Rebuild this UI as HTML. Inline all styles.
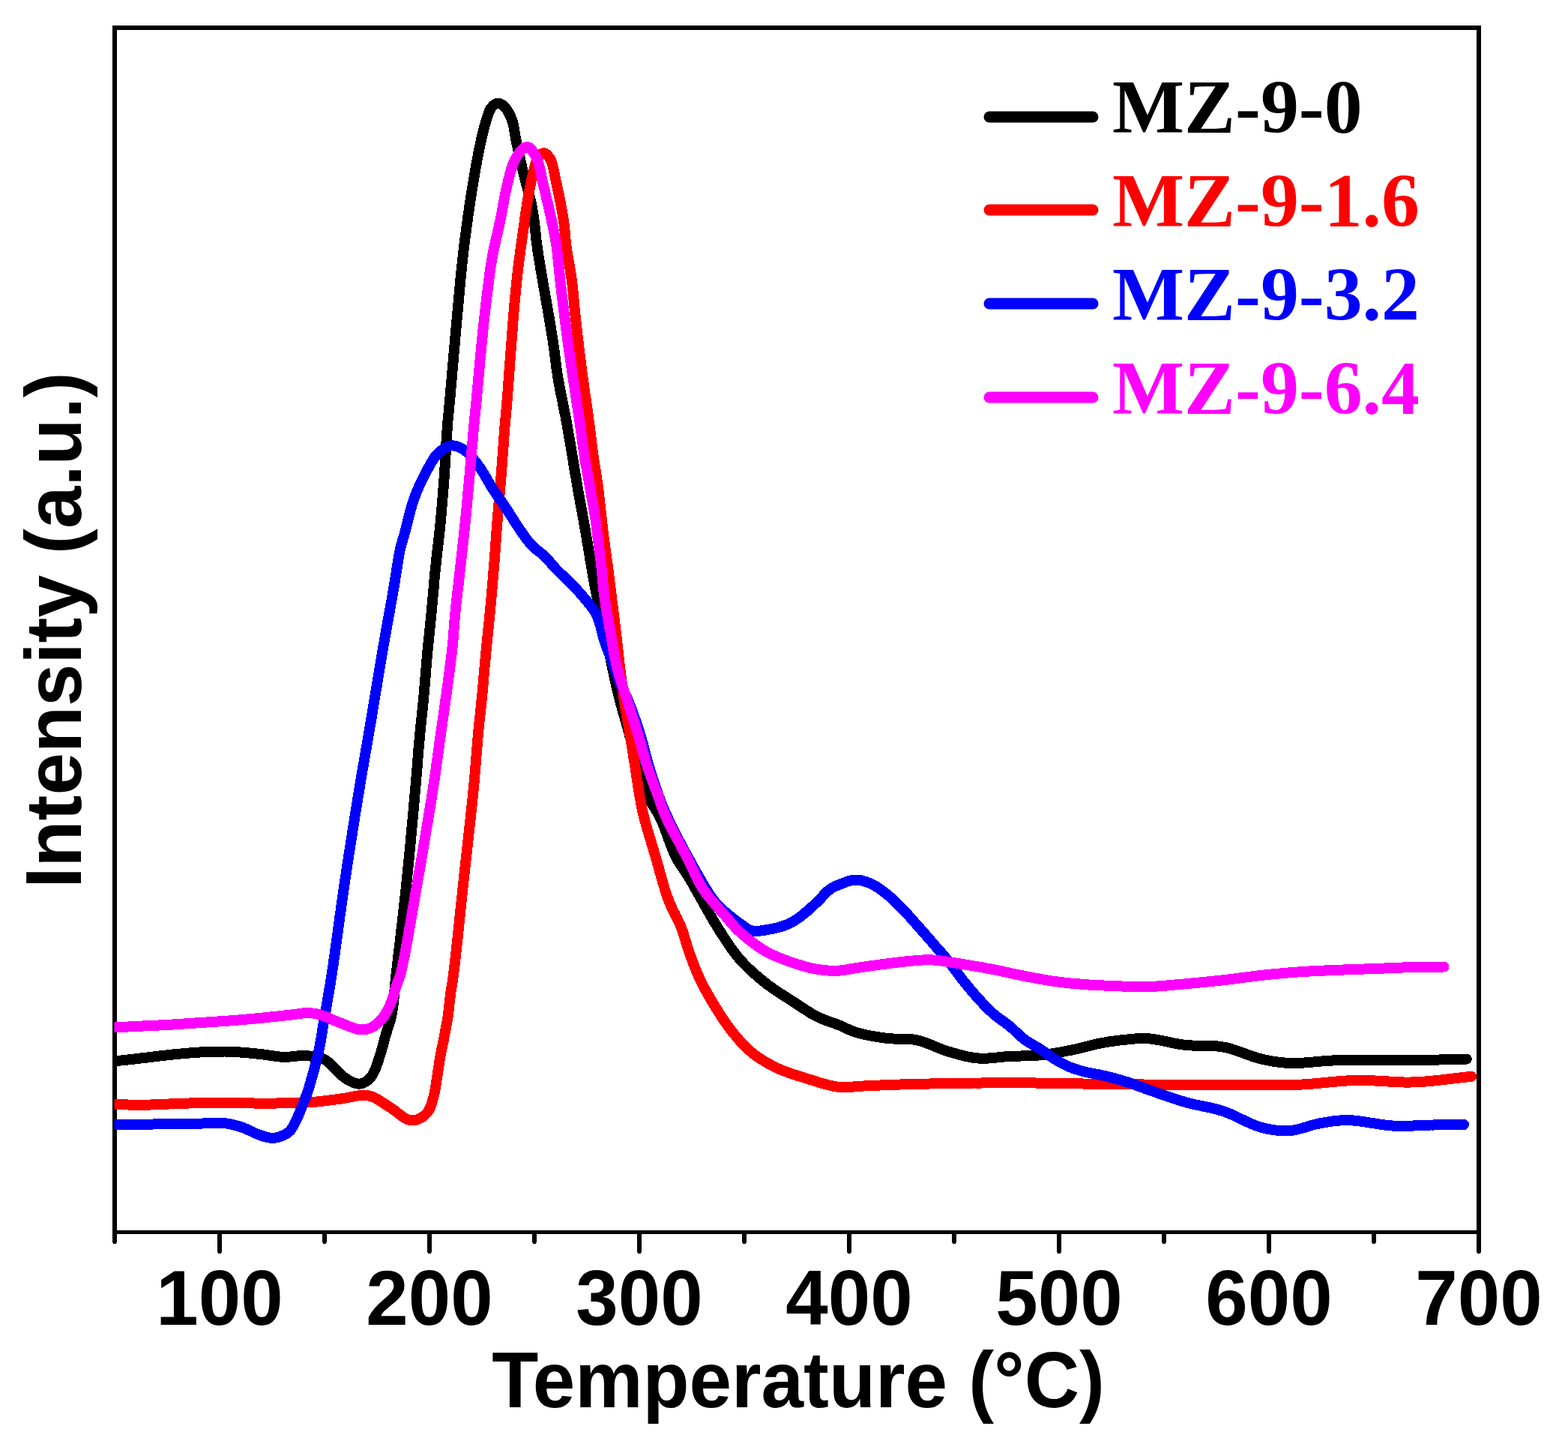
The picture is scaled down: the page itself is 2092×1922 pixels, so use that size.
<!DOCTYPE html>
<html>
<head>
<meta charset="utf-8">
<style>
html,body{margin:0;padding:0;background:#fff;}
body{width:2092px;height:1922px;overflow:hidden;}
svg{display:block;}
.tl{font-family:"Liberation Sans",Arial,sans-serif;font-weight:bold;font-size:101.5px;fill:#000;}
.lg{font-family:"Liberation Serif","Times New Roman",serif;font-weight:bold;font-size:101.8px;}
</style>
</head>
<body>
<svg width="2092" height="1922" viewBox="0 0 2092 1922">
<defs><clipPath id="plotclip"><rect x="152.7" y="37" width="1820" height="1606"/></clipPath></defs>
<rect x="0" y="0" width="2092" height="1922" fill="#fff"/>
<!-- frame -->
<g stroke="#000" fill="none">
<line x1="150" y1="37" x2="1976" y2="37" stroke-width="6"/>
<line x1="153" y1="34" x2="153" y2="1646" stroke-width="6"/>
<line x1="1973" y1="34" x2="1973" y2="1646" stroke-width="6"/>
<line x1="150" y1="1643.5" x2="1976" y2="1643.5" stroke-width="5"/>
</g>
<!-- curves -->
<g clip-path="url(#plotclip)" shape-rendering="crispEdges" fill="none" stroke-width="14" stroke-linejoin="round" stroke-linecap="round">
<path id="cBlack" stroke="#000" d="M150.0,1415.2L153.0,1415.1 156.0,1414.9 159.0,1414.7 162.0,1414.4 165.0,1414.1 167.9,1413.8 170.9,1413.4 173.9,1413.1 176.9,1412.8 179.9,1412.4 182.8,1412.1 185.8,1411.7 188.8,1411.4 191.8,1411.0 194.8,1410.7 197.7,1410.3 200.7,1410.0 203.7,1409.6 206.7,1409.2 209.7,1408.9 212.6,1408.5 215.6,1408.2 218.6,1407.8 221.6,1407.5 224.6,1407.1 227.5,1406.8 230.5,1406.5 233.5,1406.2 236.5,1405.9 239.5,1405.6 242.5,1405.4 245.5,1405.1 248.4,1404.8 251.4,1404.6 254.4,1404.3 257.4,1404.1 260.4,1403.9 263.4,1403.7 266.4,1403.5 269.4,1403.3 272.4,1403.1 275.4,1403.0 278.4,1402.8 281.4,1402.7 284.4,1402.6 287.4,1402.6 290.4,1402.5 293.4,1402.5 296.4,1402.5 299.4,1402.5 302.4,1402.6 305.4,1402.7 308.4,1402.8 311.4,1403.0 314.4,1403.1 317.3,1403.3 320.3,1403.5 323.3,1403.7 326.3,1404.0 329.3,1404.2 332.3,1404.5 335.3,1404.8 338.3,1405.1 341.3,1405.4 344.2,1405.7 347.2,1406.0 350.2,1406.4 353.2,1406.7 356.1,1407.1 359.1,1407.6 362.1,1408.0 365.0,1408.5 368.0,1408.9 371.0,1409.3 374.0,1409.6 377.0,1409.8 380.0,1409.8 383.0,1409.8 386.0,1409.6 389.0,1409.3 391.9,1409.0 394.9,1408.6 397.9,1408.4 400.9,1408.2 403.9,1408.1 406.9,1408.2 409.9,1408.3 412.9,1408.5 415.9,1408.7 418.9,1409.1 421.8,1409.5 424.8,1410.1 427.7,1410.9 430.5,1411.9 433.2,1413.2 435.7,1414.8 438.0,1416.7 440.3,1418.7 442.4,1420.9 444.4,1423.0 446.5,1425.2 448.6,1427.3 450.8,1429.4 452.9,1431.5 455.1,1433.6 457.4,1435.6 459.8,1437.4 462.2,1439.0 464.8,1440.6 467.4,1442.1 470.1,1443.4 472.9,1444.5 475.8,1445.3 478.7,1445.7 481.7,1445.4 484.6,1444.5 487.3,1443.2 489.8,1441.5 492.0,1439.6 494.1,1437.4 496.0,1435.1 497.6,1432.5 499.0,1429.9 500.2,1427.1 501.4,1424.4 502.4,1421.6 503.4,1418.7 504.4,1415.9 505.3,1413.0 506.2,1410.2 507.2,1407.3 508.1,1404.5 508.9,1401.6 509.7,1398.7 510.5,1395.8 511.3,1392.9 512.0,1390.0 512.7,1387.1 513.5,1384.2 514.3,1381.3 515.2,1378.4 516.1,1375.6 517.0,1372.7 518.0,1369.9 518.9,1367.0 519.8,1364.1 520.6,1361.3 521.4,1358.4 522.1,1355.4 522.7,1352.5 523.2,1349.6 523.7,1346.6 524.1,1343.6 524.5,1340.6 524.8,1337.7 525.2,1334.7 525.5,1331.7 525.7,1328.7 526.0,1325.7 526.3,1322.7 526.6,1319.8 526.8,1316.8 527.1,1313.8 527.4,1310.8 527.7,1307.8 528.0,1304.8 528.3,1301.8 528.6,1298.9 529.0,1295.9 529.3,1292.9 529.7,1289.9 530.0,1286.9 530.3,1284.0 530.7,1281.0 531.0,1278.0 531.4,1275.0 531.7,1272.0 532.1,1269.1 532.4,1266.1 532.8,1263.1 533.1,1260.1 533.5,1257.1 533.8,1254.2 534.2,1251.2 534.5,1248.2 534.9,1245.2 535.2,1242.2 535.6,1239.3 535.9,1236.3 536.3,1233.3 536.6,1230.3 536.9,1227.3 537.3,1224.4 537.6,1221.4 538.0,1218.4 538.3,1215.4 538.6,1212.4 539.0,1209.5 539.3,1206.5 539.6,1203.5 540.0,1200.5 540.3,1197.5 540.6,1194.5 540.9,1191.6 541.3,1188.6 541.6,1185.6 541.9,1182.6 542.2,1179.6 542.5,1176.6 542.8,1173.7 543.1,1170.7 543.4,1167.7 543.7,1164.7 544.0,1161.7 544.3,1158.7 544.6,1155.7 544.9,1152.8 545.2,1149.8 545.5,1146.8 545.8,1143.8 546.1,1140.8 546.4,1137.8 546.6,1134.8 546.9,1131.9 547.2,1128.9 547.5,1125.9 547.8,1122.9 548.0,1119.9 548.3,1116.9 548.6,1113.9 548.9,1110.9 549.1,1108.0 549.4,1105.0 549.7,1102.0 550.0,1099.0 550.2,1096.0 550.5,1093.0 550.8,1090.0 551.0,1087.0 551.3,1084.1 551.6,1081.1 551.8,1078.1 552.1,1075.1 552.4,1072.1 552.6,1069.1 552.9,1066.1 553.1,1063.1 553.4,1060.2 553.7,1057.2 553.9,1054.2 554.2,1051.2 554.5,1048.2 554.7,1045.2 555.0,1042.2 555.2,1039.2 555.5,1036.2 555.7,1033.3 556.0,1030.3 556.2,1027.3 556.5,1024.3 556.7,1021.3 556.9,1018.3 557.2,1015.3 557.4,1012.3 557.7,1009.3 557.9,1006.3 558.1,1003.3 558.4,1000.4 558.6,997.4 558.9,994.4 559.1,991.4 559.4,988.4 559.7,985.4 560.0,982.4 560.2,979.4 560.5,976.5 560.8,973.5 561.1,970.5 561.4,967.5 561.7,964.5 562.0,961.5 562.3,958.5 562.7,955.6 563.0,952.6 563.3,949.6 563.6,946.6 563.9,943.6 564.2,940.6 564.5,937.7 564.8,934.7 565.1,931.7 565.4,928.7 565.6,925.7 565.9,922.7 566.2,919.7 566.4,916.7 566.7,913.8 566.9,910.8 567.2,907.8 567.4,904.8 567.7,901.8 567.9,898.8 568.2,895.8 568.4,892.8 568.6,889.8 568.9,886.8 569.1,883.9 569.4,880.9 569.6,877.9 569.9,874.9 570.2,871.9 570.4,868.9 570.7,865.9 571.0,862.9 571.3,860.0 571.6,857.0 571.9,854.0 572.2,851.0 572.5,848.0 572.8,845.0 573.1,842.0 573.4,839.1 573.7,836.1 574.0,833.1 574.3,830.1 574.6,827.1 574.9,824.1 575.2,821.1 575.5,818.2 575.7,815.2 576.0,812.2 576.3,809.2 576.6,806.2 576.9,803.2 577.1,800.2 577.4,797.3 577.7,794.3 577.9,791.3 578.2,788.3 578.5,785.3 578.7,782.3 579.0,779.3 579.3,776.3 579.5,773.3 579.8,770.4 580.1,767.4 580.4,764.4 580.6,761.4 580.9,758.4 581.2,755.4 581.6,752.4 581.9,749.5 582.2,746.5 582.5,743.5 582.9,740.5 583.2,737.5 583.5,734.6 583.9,731.6 584.2,728.6 584.6,725.6 584.9,722.6 585.2,719.7 585.6,716.7 585.9,713.7 586.2,710.7 586.6,707.7 586.9,704.7 587.2,701.8 587.5,698.8 587.8,695.8 588.1,692.8 588.3,689.8 588.6,686.8 588.9,683.8 589.1,680.8 589.4,677.9 589.6,674.9 589.9,671.9 590.1,668.9 590.4,665.9 590.6,662.9 590.9,659.9 591.1,656.9 591.3,653.9 591.6,650.9 591.8,648.0 592.0,645.0 592.2,642.0 592.5,639.0 592.7,636.0 592.9,633.0 593.1,630.0 593.3,627.0 593.5,624.0 593.7,621.0 593.9,618.0 594.0,615.0 594.2,612.0 594.4,609.0 594.6,606.0 594.7,603.1 594.9,600.1 595.1,597.1 595.3,594.1 595.4,591.1 595.6,588.1 595.8,585.1 596.0,582.1 596.2,579.1 596.4,576.1 596.6,573.1 596.8,570.1 597.0,567.1 597.3,564.1 597.5,561.1 597.8,558.2 598.1,555.2 598.4,552.2 598.7,549.2 599.0,546.2 599.3,543.2 599.5,540.2 599.8,537.3 600.1,534.3 600.3,531.3 600.6,528.3 600.9,525.3 601.1,522.3 601.4,519.3 601.6,516.3 601.9,513.3 602.2,510.4 602.4,507.4 602.7,504.4 602.9,501.4 603.2,498.4 603.4,495.4 603.7,492.4 604.0,489.4 604.2,486.4 604.5,483.5 604.7,480.5 605.0,477.5 605.2,474.5 605.5,471.5 605.8,468.5 606.0,465.5 606.3,462.5 606.6,459.5 606.8,456.6 607.1,453.6 607.3,450.6 607.6,447.6 607.9,444.6 608.1,441.6 608.4,438.6 608.7,435.6 608.9,432.7 609.2,429.7 609.5,426.7 609.7,423.7 610.0,420.7 610.3,417.7 610.6,414.7 610.8,411.7 611.1,408.8 611.4,405.8 611.7,402.8 611.9,399.8 612.2,396.8 612.5,393.8 612.8,390.8 613.0,387.8 613.3,384.9 613.6,381.9 613.9,378.9 614.2,375.9 614.4,372.9 614.7,369.9 615.0,366.9 615.3,363.9 615.6,361.0 615.9,358.0 616.2,355.0 616.5,352.0 616.9,349.0 617.2,346.0 617.5,343.1 617.8,340.1 618.2,337.1 618.5,334.1 618.9,331.1 619.2,328.2 619.6,325.2 620.0,322.2 620.3,319.2 620.7,316.3 621.1,313.3 621.5,310.3 621.9,307.3 622.3,304.4 622.7,301.4 623.1,298.4 623.5,295.4 623.9,292.5 624.3,289.5 624.7,286.5 625.2,283.6 625.6,280.6 626.0,277.6 626.4,274.6 626.9,271.7 627.3,268.7 627.8,265.7 628.2,262.8 628.7,259.8 629.2,256.9 629.6,253.9 630.1,250.9 630.6,248.0 631.1,245.0 631.6,242.0 632.1,239.1 632.6,236.1 633.1,233.2 633.6,230.2 634.1,227.3 634.6,224.3 635.1,221.3 635.6,218.4 636.2,215.4 636.7,212.5 637.3,209.5 637.8,206.6 638.4,203.7 639.0,200.7 639.6,197.8 640.2,194.8 640.8,191.9 641.5,189.0 642.1,186.0 642.8,183.1 643.5,180.2 644.2,177.3 644.9,174.4 645.7,171.5 646.4,168.6 647.2,165.7 648.1,162.8 648.9,159.9 649.8,157.0 650.7,154.2 651.6,151.3 652.7,148.5 654.0,145.9 655.7,143.4 657.7,141.1 660.1,139.3 662.8,138.0 665.8,137.9 668.6,138.9 671.1,140.6 673.3,142.6 675.2,144.9 677.0,147.3 678.5,149.9 679.9,152.6 681.1,155.3 682.3,158.1 683.3,160.9 684.2,163.7 684.9,166.6 685.5,169.6 686.0,172.5 686.5,175.5 687.0,178.5 687.5,181.4 688.0,184.4 688.6,187.3 689.2,190.3 689.8,193.2 690.5,196.1 691.1,199.1 691.7,202.0 692.4,204.9 693.0,207.8 693.7,210.8 694.3,213.7 695.0,216.6 695.7,219.6 696.3,222.5 697.0,225.4 697.7,228.3 698.4,231.2 699.2,234.1 699.9,237.0 700.7,239.9 701.5,242.8 702.2,245.7 703.0,248.6 703.8,251.5 704.6,254.4 705.4,257.3 706.1,260.2 706.8,263.1 707.5,266.1 708.2,269.0 708.9,271.9 709.5,274.8 710.1,277.8 710.6,280.7 711.1,283.7 711.6,286.7 712.0,289.6 712.4,292.6 712.8,295.6 713.1,298.6 713.5,301.5 713.8,304.5 714.1,307.5 714.5,310.5 714.8,313.5 715.1,316.4 715.4,319.4 715.8,322.4 716.2,325.4 716.6,328.4 717.0,331.3 717.4,334.3 717.9,337.3 718.3,340.2 718.8,343.2 719.3,346.2 719.8,349.1 720.2,352.1 720.7,355.0 721.2,358.0 721.7,361.0 722.2,363.9 722.7,366.9 723.2,369.8 723.7,372.8 724.2,375.7 724.7,378.7 725.2,381.7 725.8,384.6 726.3,387.6 726.8,390.5 727.3,393.5 727.9,396.4 728.4,399.4 728.9,402.3 729.4,405.3 730.0,408.2 730.5,411.2 731.0,414.2 731.5,417.1 732.0,420.1 732.5,423.0 733.0,426.0 733.5,428.9 734.0,431.9 734.5,434.9 734.9,437.8 735.4,440.8 735.9,443.7 736.4,446.7 736.8,449.7 737.3,452.6 737.8,455.6 738.2,458.6 738.6,461.5 739.1,464.5 739.5,467.5 739.9,470.5 740.2,473.4 740.6,476.4 741.0,479.4 741.4,482.4 741.7,485.3 742.1,488.3 742.5,491.3 743.0,494.3 743.4,497.2 743.8,500.2 744.3,503.1 744.8,506.1 745.3,509.1 745.9,512.0 746.4,515.0 747.0,517.9 747.5,520.9 748.1,523.8 748.7,526.7 749.3,529.7 749.9,532.6 750.5,535.6 751.1,538.5 751.6,541.5 752.2,544.4 752.8,547.3 753.4,550.3 754.0,553.2 754.6,556.2 755.1,559.1 755.7,562.1 756.2,565.0 756.7,568.0 757.3,570.9 757.8,573.9 758.3,576.8 758.8,579.8 759.3,582.7 759.8,585.7 760.3,588.7 760.8,591.6 761.3,594.6 761.8,597.5 762.3,600.5 762.8,603.5 763.3,606.4 763.8,609.4 764.3,612.3 764.7,615.3 765.2,618.3 765.7,621.2 766.2,624.2 766.7,627.1 767.2,630.1 767.7,633.1 768.2,636.0 768.7,639.0 769.2,641.9 769.7,644.9 770.2,647.8 770.7,650.8 771.2,653.8 771.7,656.7 772.3,659.7 772.8,662.6 773.3,665.6 773.9,668.5 774.4,671.5 775.0,674.4 775.5,677.4 776.1,680.3 776.6,683.3 777.1,686.2 777.7,689.2 778.2,692.1 778.8,695.1 779.3,698.0 779.8,701.0 780.3,703.9 780.9,706.9 781.4,709.8 781.9,712.8 782.4,715.8 782.9,718.7 783.3,721.7 783.8,724.6 784.3,727.6 784.8,730.6 785.3,733.5 785.8,736.5 786.3,739.4 786.7,742.4 787.2,745.4 787.7,748.3 788.3,751.3 788.8,754.2 789.3,757.2 789.8,760.1 790.3,763.1 790.8,766.1 791.3,769.0 791.9,772.0 792.4,774.9 792.9,777.9 793.5,780.8 794.0,783.8 794.6,786.7 795.1,789.7 795.7,792.6 796.3,795.5 796.9,798.5 797.5,801.4 798.1,804.4 798.7,807.3 799.3,810.2 800.0,813.2 800.6,816.1 801.2,819.0 801.9,822.0 802.5,824.9 803.2,827.8 803.8,830.8 804.5,833.7 805.1,836.6 805.8,839.5 806.4,842.5 807.1,845.4 807.7,848.3 808.4,851.2 809.0,854.2 809.7,857.1 810.4,860.0 811.0,863.0 811.7,865.9 812.3,868.8 813.0,871.7 813.6,874.7 814.3,877.6 814.9,880.5 815.6,883.5 816.2,886.4 816.8,889.3 817.4,892.3 818.0,895.2 818.7,898.1 819.3,901.1 819.9,904.0 820.5,906.9 821.2,909.9 821.8,912.8 822.4,915.7 823.1,918.7 823.8,921.6 824.5,924.5 825.2,927.4 825.9,930.3 826.7,933.2 827.5,936.1 828.2,939.0 829.1,941.9 829.9,944.8 830.7,947.7 831.5,950.6 832.4,953.4 833.2,956.3 834.1,959.2 834.9,962.1 835.7,965.0 836.6,967.8 837.4,970.7 838.2,973.6 839.0,976.5 839.7,979.4 840.4,982.3 841.2,985.2 841.9,988.2 842.5,991.1 843.2,994.0 843.9,996.9 844.6,999.9 845.2,1002.8 845.9,1005.7 846.6,1008.6 847.3,1011.5 848.0,1014.5 848.7,1017.4 849.5,1020.3 850.3,1023.2 851.1,1026.0 851.9,1028.9 852.8,1031.8 853.6,1034.7 854.5,1037.5 855.4,1040.4 856.3,1043.3 857.3,1046.1 858.3,1048.9 859.4,1051.7 860.5,1054.5 861.6,1057.3 862.9,1060.0 864.2,1062.7 865.6,1065.4 867.1,1067.9 868.7,1070.5 870.4,1073.0 872.0,1075.5 873.6,1078.0 875.2,1080.6 876.8,1083.1 878.3,1085.7 879.7,1088.4 881.1,1091.1 882.3,1093.8 883.5,1096.5 884.7,1099.3 885.8,1102.1 886.9,1104.9 887.9,1107.7 888.9,1110.5 890.0,1113.3 891.0,1116.2 892.0,1119.0 893.0,1121.8 894.1,1124.6 895.1,1127.4 896.2,1130.2 897.3,1133.0 898.4,1135.8 899.6,1138.5 900.9,1141.3 902.2,1143.9 903.7,1146.6 905.2,1149.2 906.8,1151.7 908.4,1154.2 910.1,1156.7 911.9,1159.1 913.6,1161.6 915.2,1164.1 916.8,1166.6 918.4,1169.2 920.0,1171.8 921.5,1174.3 923.0,1176.9 924.5,1179.5 926.0,1182.1 927.4,1184.8 928.9,1187.4 930.4,1190.0 931.9,1192.6 933.3,1195.2 934.8,1197.8 936.3,1200.4 937.8,1203.0 939.3,1205.6 940.7,1208.3 942.2,1210.9 943.7,1213.5 945.1,1216.1 946.6,1218.7 948.1,1221.3 949.6,1223.9 951.1,1226.5 952.6,1229.1 954.2,1231.7 955.7,1234.2 957.3,1236.8 958.9,1239.3 960.5,1241.9 962.1,1244.4 963.7,1246.9 965.3,1249.5 967.0,1252.0 968.6,1254.5 970.3,1257.0 971.9,1259.5 973.6,1262.0 975.3,1264.4 977.1,1266.9 978.9,1269.3 980.7,1271.7 982.5,1274.0 984.4,1276.4 986.3,1278.7 988.3,1280.9 990.3,1283.1 992.4,1285.3 994.5,1287.5 996.6,1289.6 998.8,1291.7 1000.9,1293.7 1003.1,1295.8 1005.4,1297.8 1007.6,1299.8 1009.9,1301.7 1012.2,1303.7 1014.5,1305.6 1016.8,1307.5 1019.1,1309.4 1021.5,1311.2 1023.9,1313.1 1026.3,1314.9 1028.7,1316.6 1031.1,1318.4 1033.6,1320.1 1036.1,1321.7 1038.6,1323.4 1041.1,1325.0 1043.6,1326.7 1046.2,1328.3 1048.7,1329.9 1051.2,1331.5 1053.8,1333.1 1056.3,1334.8 1058.8,1336.4 1061.3,1338.1 1063.8,1339.7 1066.3,1341.4 1068.8,1343.0 1071.3,1344.7 1073.8,1346.3 1076.3,1347.9 1078.9,1349.5 1081.4,1351.1 1084.0,1352.6 1086.7,1354.0 1089.3,1355.4 1092.0,1356.8 1094.7,1358.0 1097.5,1359.2 1100.3,1360.3 1103.1,1361.4 1105.9,1362.4 1108.7,1363.4 1111.6,1364.4 1114.4,1365.4 1117.2,1366.4 1120.0,1367.5 1122.7,1368.7 1125.5,1370.0 1128.2,1371.2 1130.9,1372.5 1133.6,1373.7 1136.4,1374.9 1139.2,1375.9 1142.1,1376.9 1145.0,1377.7 1147.9,1378.5 1150.8,1379.2 1153.7,1379.9 1156.6,1380.5 1159.6,1381.1 1162.5,1381.7 1165.5,1382.2 1168.4,1382.7 1171.4,1383.2 1174.3,1383.7 1177.3,1384.1 1180.3,1384.5 1183.3,1384.9 1186.2,1385.2 1189.2,1385.4 1192.2,1385.5 1195.2,1385.6 1198.2,1385.6 1201.2,1385.6 1204.2,1385.7 1207.2,1385.7 1210.2,1385.8 1213.2,1386.0 1216.2,1386.3 1219.2,1386.6 1222.2,1387.1 1225.1,1387.7 1228.0,1388.5 1230.9,1389.4 1233.7,1390.3 1236.5,1391.4 1239.3,1392.5 1242.1,1393.6 1244.9,1394.7 1247.6,1395.9 1250.4,1397.1 1253.2,1398.2 1256.0,1399.3 1258.8,1400.4 1261.6,1401.3 1264.5,1402.3 1267.3,1403.1 1270.2,1404.0 1273.1,1404.8 1276.0,1405.6 1278.9,1406.4 1281.8,1407.2 1284.7,1407.9 1287.6,1408.6 1290.5,1409.3 1293.5,1409.9 1296.4,1410.4 1299.4,1410.9 1302.4,1411.2 1305.3,1411.5 1308.3,1411.7 1311.3,1411.8 1314.3,1411.7 1317.3,1411.6 1320.3,1411.4 1323.3,1411.2 1326.3,1410.9 1329.3,1410.6 1332.3,1410.2 1335.3,1409.9 1338.2,1409.6 1341.2,1409.3 1344.2,1409.1 1347.2,1408.9 1350.2,1408.8 1353.2,1408.7 1356.2,1408.6 1359.2,1408.5 1362.2,1408.5 1365.2,1408.4 1368.2,1408.4 1371.2,1408.3 1374.2,1408.2 1377.2,1408.1 1380.2,1408.0 1383.2,1407.8 1386.2,1407.5 1389.2,1407.2 1392.1,1406.9 1395.1,1406.6 1398.1,1406.2 1401.1,1405.7 1404.0,1405.3 1407.0,1404.8 1409.9,1404.3 1412.9,1403.8 1415.9,1403.2 1418.8,1402.7 1421.7,1402.1 1424.7,1401.5 1427.6,1401.0 1430.6,1400.4 1433.5,1399.7 1436.4,1399.1 1439.4,1398.4 1442.3,1397.7 1445.2,1396.9 1448.1,1396.2 1451.0,1395.5 1453.9,1394.7 1456.8,1394.0 1459.7,1393.3 1462.6,1392.6 1465.6,1392.0 1468.5,1391.4 1471.5,1390.8 1474.4,1390.3 1477.4,1389.8 1480.3,1389.3 1483.3,1388.9 1486.3,1388.5 1489.3,1388.1 1492.2,1387.7 1495.2,1387.4 1498.2,1387.1 1501.2,1386.8 1504.2,1386.5 1507.2,1386.1 1510.1,1385.8 1513.1,1385.6 1516.1,1385.3 1519.1,1385.1 1522.1,1385.0 1525.1,1385.0 1528.1,1385.0 1531.1,1385.2 1534.1,1385.4 1537.1,1385.8 1540.0,1386.2 1543.0,1386.7 1546.0,1387.2 1548.9,1387.8 1551.8,1388.4 1554.8,1389.0 1557.7,1389.6 1560.6,1390.2 1563.6,1390.9 1566.5,1391.5 1569.5,1392.0 1572.4,1392.6 1575.4,1393.0 1578.3,1393.5 1581.3,1393.9 1584.3,1394.1 1587.3,1394.4 1590.3,1394.5 1593.3,1394.6 1596.3,1394.7 1599.3,1394.7 1602.3,1394.8 1605.3,1394.8 1608.3,1394.8 1611.3,1394.8 1614.3,1394.9 1617.3,1395.0 1620.3,1395.2 1623.3,1395.4 1626.3,1395.7 1629.2,1396.1 1632.2,1396.6 1635.1,1397.1 1638.1,1397.8 1641.0,1398.6 1643.8,1399.4 1646.7,1400.3 1649.5,1401.3 1652.4,1402.3 1655.2,1403.3 1658.0,1404.3 1660.8,1405.3 1663.7,1406.4 1666.5,1407.4 1669.3,1408.4 1672.1,1409.4 1675.0,1410.3 1677.9,1411.1 1680.8,1411.9 1683.7,1412.7 1686.6,1413.3 1689.5,1413.9 1692.5,1414.5 1695.4,1415.1 1698.4,1415.6 1701.3,1416.1 1704.3,1416.5 1707.3,1416.9 1710.3,1417.2 1713.3,1417.5 1716.2,1417.7 1719.2,1417.9 1722.2,1418.0 1725.2,1418.1 1728.2,1418.1 1731.2,1418.0 1734.2,1417.9 1737.2,1417.7 1740.2,1417.5 1743.2,1417.3 1746.2,1417.0 1749.2,1416.8 1752.2,1416.5 1755.2,1416.2 1758.2,1416.0 1761.1,1415.7 1764.1,1415.4 1767.1,1415.2 1770.1,1415.0 1773.1,1414.8 1776.1,1414.6 1779.1,1414.4 1782.1,1414.3 1785.1,1414.2 1788.1,1414.1 1791.1,1414.0 1794.1,1414.0 1797.1,1413.9 1800.1,1413.9 1803.1,1413.9 1806.1,1413.9 1809.1,1413.9 1812.1,1413.9 1815.1,1413.9 1818.1,1413.9 1821.1,1413.9 1824.1,1413.9 1827.1,1413.9 1830.1,1414.0 1833.1,1414.0 1836.1,1414.0 1839.1,1414.0 1842.1,1414.1 1845.1,1414.1 1848.1,1414.1 1851.1,1414.2 1854.1,1414.2 1857.1,1414.2 1860.1,1414.2 1863.1,1414.2 1866.1,1414.3 1869.1,1414.3 1872.1,1414.3 1875.1,1414.3 1878.1,1414.3 1881.1,1414.2 1884.1,1414.2 1887.1,1414.2 1890.1,1414.1 1893.1,1414.1 1896.1,1414.0 1899.1,1414.0 1902.1,1413.9 1905.1,1413.9 1908.1,1413.8 1911.1,1413.7 1914.1,1413.7 1917.1,1413.6 1920.1,1413.5 1923.1,1413.4 1926.1,1413.3 1929.1,1413.3 1932.1,1413.2 1935.1,1413.1 1938.1,1413.0 1941.1,1412.9 1944.1,1412.8 1947.1,1412.7 1950.1,1412.7 1953.1,1412.6 1956.1,1412.5 1956.8,1412.5"/>
<use href="#cBlack" stroke-width="8"/>
<path id="cRed" stroke="#f00" d="M150.0,1473.0L153.0,1473.1 156.0,1473.1 159.0,1473.2 162.0,1473.3 165.0,1473.4 168.0,1473.4 171.0,1473.5 174.0,1473.6 177.0,1473.6 180.0,1473.7 183.0,1473.7 186.0,1473.7 189.0,1473.7 192.0,1473.7 195.0,1473.6 198.0,1473.6 201.0,1473.5 204.0,1473.4 207.0,1473.3 210.0,1473.1 213.0,1473.0 216.0,1472.9 219.0,1472.8 222.0,1472.6 225.0,1472.5 228.0,1472.4 231.0,1472.3 234.0,1472.2 237.0,1472.1 240.0,1472.0 243.0,1471.9 246.0,1471.7 249.0,1471.6 252.0,1471.5 255.0,1471.4 257.9,1471.3 260.9,1471.2 263.9,1471.1 266.9,1471.1 269.9,1471.0 272.9,1471.0 275.9,1470.9 278.9,1470.9 281.9,1470.9 284.9,1470.9 287.9,1470.9 290.9,1470.9 293.9,1470.9 296.9,1470.9 299.9,1470.9 302.9,1470.9 305.9,1471.0 308.9,1471.0 311.9,1471.0 314.9,1471.0 317.9,1471.1 320.9,1471.1 323.9,1471.2 326.9,1471.2 329.9,1471.3 332.9,1471.4 335.9,1471.4 338.9,1471.5 341.9,1471.5 344.9,1471.6 347.9,1471.6 350.9,1471.6 353.9,1471.6 356.9,1471.6 359.9,1471.6 362.9,1471.5 365.9,1471.5 368.9,1471.5 371.9,1471.4 374.9,1471.4 377.9,1471.3 380.9,1471.2 383.9,1471.2 386.9,1471.1 389.9,1471.0 392.9,1471.0 395.9,1470.9 398.9,1470.8 401.9,1470.8 404.9,1470.7 407.9,1470.6 410.9,1470.4 413.9,1470.2 416.9,1470.0 419.9,1469.7 422.9,1469.5 425.9,1469.1 428.8,1468.8 431.8,1468.5 434.8,1468.1 437.8,1467.7 440.8,1467.4 443.7,1467.0 446.7,1466.6 449.7,1466.3 452.7,1465.9 455.6,1465.4 458.6,1465.0 461.6,1464.5 464.5,1463.9 467.5,1463.3 470.4,1462.7 473.3,1462.1 476.3,1461.6 479.3,1461.2 482.2,1461.0 485.2,1460.9 488.2,1461.0 491.2,1461.3 494.1,1462.0 497.0,1463.0 499.7,1464.2 502.4,1465.6 505.0,1467.1 507.5,1468.7 510.0,1470.3 512.6,1471.9 515.1,1473.6 517.6,1475.2 520.1,1476.8 522.6,1478.5 525.1,1480.2 527.5,1482.0 529.9,1483.8 532.2,1485.6 534.6,1487.5 537.0,1489.3 539.5,1490.9 542.1,1492.4 544.9,1493.6 547.8,1494.4 550.8,1494.5 553.7,1494.1 556.6,1493.3 559.4,1492.2 562.0,1490.8 564.5,1489.1 566.9,1487.2 569.0,1485.1 570.9,1482.8 572.4,1480.2 573.8,1477.5 574.9,1474.7 575.8,1471.9 576.7,1469.0 577.5,1466.1 578.3,1463.3 579.1,1460.3 579.8,1457.4 580.4,1454.5 580.9,1451.5 581.4,1448.6 581.8,1445.6 582.2,1442.6 582.6,1439.7 583.1,1436.7 583.6,1433.7 584.0,1430.8 584.5,1427.8 584.9,1424.8 585.4,1421.9 585.8,1418.9 586.3,1415.9 586.8,1413.0 587.3,1410.0 587.8,1407.1 588.4,1404.1 588.9,1401.2 589.5,1398.2 590.1,1395.3 590.8,1392.4 591.4,1389.4 592.0,1386.5 592.5,1383.5 593.1,1380.6 593.7,1377.7 594.2,1374.7 594.8,1371.8 595.3,1368.8 595.9,1365.9 596.4,1362.9 596.9,1359.9 597.4,1357.0 597.8,1354.0 598.2,1351.0 598.6,1348.1 598.9,1345.1 599.2,1342.1 599.5,1339.1 599.9,1336.1 600.2,1333.1 600.5,1330.2 600.9,1327.2 601.3,1324.2 601.8,1321.3 602.2,1318.3 602.7,1315.3 603.2,1312.4 603.6,1309.4 604.1,1306.4 604.5,1303.5 604.9,1300.5 605.3,1297.5 605.7,1294.5 606.0,1291.6 606.4,1288.6 606.7,1285.6 607.1,1282.6 607.4,1279.6 607.8,1276.7 608.1,1273.7 608.4,1270.7 608.7,1267.7 609.1,1264.7 609.4,1261.8 609.7,1258.8 610.0,1255.8 610.3,1252.8 610.7,1249.8 611.0,1246.8 611.3,1243.9 611.6,1240.9 611.9,1237.9 612.2,1234.9 612.5,1231.9 612.8,1228.9 613.1,1225.9 613.5,1223.0 613.8,1220.0 614.1,1217.0 614.4,1214.0 614.7,1211.0 615.0,1208.0 615.3,1205.1 615.6,1202.1 615.9,1199.1 616.3,1196.1 616.6,1193.1 616.9,1190.1 617.2,1187.2 617.5,1184.2 617.8,1181.2 618.2,1178.2 618.5,1175.2 618.8,1172.2 619.1,1169.3 619.4,1166.3 619.8,1163.3 620.1,1160.3 620.4,1157.3 620.8,1154.4 621.1,1151.4 621.4,1148.4 621.7,1145.4 622.1,1142.4 622.4,1139.4 622.7,1136.5 623.1,1133.5 623.4,1130.5 623.7,1127.5 624.1,1124.5 624.4,1121.6 624.7,1118.6 625.1,1115.6 625.4,1112.6 625.7,1109.6 626.1,1106.6 626.4,1103.7 626.7,1100.7 627.0,1097.7 627.4,1094.7 627.7,1091.7 628.0,1088.8 628.3,1085.8 628.6,1082.8 629.0,1079.8 629.3,1076.8 629.6,1073.8 629.9,1070.9 630.2,1067.9 630.5,1064.9 630.8,1061.9 631.1,1058.9 631.4,1055.9 631.7,1052.9 632.0,1050.0 632.3,1047.0 632.6,1044.0 632.8,1041.0 633.1,1038.0 633.4,1035.0 633.6,1032.0 633.9,1029.0 634.1,1026.0 634.3,1023.1 634.6,1020.1 634.8,1017.1 635.0,1014.1 635.3,1011.1 635.5,1008.1 635.7,1005.1 636.0,1002.1 636.2,999.1 636.5,996.1 636.7,993.2 637.0,990.2 637.2,987.2 637.5,984.2 637.8,981.2 638.1,978.2 638.3,975.2 638.6,972.2 638.9,969.3 639.2,966.3 639.5,963.3 639.8,960.3 640.2,957.3 640.5,954.3 640.8,951.4 641.1,948.4 641.4,945.4 641.7,942.4 642.0,939.4 642.3,936.4 642.6,933.4 642.9,930.5 643.2,927.5 643.5,924.5 643.7,921.5 644.0,918.5 644.3,915.5 644.6,912.5 644.8,909.5 645.1,906.6 645.3,903.6 645.6,900.6 645.9,897.6 646.1,894.6 646.4,891.6 646.6,888.6 646.9,885.6 647.2,882.6 647.5,879.7 647.7,876.7 648.0,873.7 648.3,870.7 648.6,867.7 648.9,864.7 649.2,861.7 649.5,858.8 649.8,855.8 650.1,852.8 650.4,849.8 650.7,846.8 651.0,843.8 651.3,840.9 651.6,837.9 651.9,834.9 652.2,831.9 652.5,828.9 652.8,825.9 653.1,822.9 653.4,820.0 653.7,817.0 654.0,814.0 654.2,811.0 654.5,808.0 654.8,805.0 655.0,802.0 655.3,799.0 655.6,796.1 655.8,793.1 656.1,790.1 656.4,787.1 656.6,784.1 656.9,781.1 657.1,778.1 657.4,775.1 657.7,772.1 657.9,769.2 658.2,766.2 658.4,763.2 658.6,760.2 658.9,757.2 659.1,754.2 659.4,751.2 659.6,748.2 659.8,745.2 660.0,742.2 660.3,739.3 660.5,736.3 660.7,733.3 660.9,730.3 661.1,727.3 661.4,724.3 661.6,721.3 661.8,718.3 662.0,715.3 662.2,712.3 662.4,709.3 662.7,706.3 662.9,703.3 663.1,700.4 663.4,697.4 663.6,694.4 663.8,691.4 664.1,688.4 664.3,685.4 664.6,682.4 664.8,679.4 665.1,676.4 665.3,673.4 665.6,670.5 665.8,667.5 666.1,664.5 666.3,661.5 666.6,658.5 666.8,655.5 667.1,652.5 667.3,649.5 667.6,646.5 667.8,643.5 668.1,640.6 668.3,637.6 668.6,634.6 668.8,631.6 669.0,628.6 669.3,625.6 669.5,622.6 669.7,619.6 669.9,616.6 670.1,613.6 670.4,610.6 670.6,607.7 670.8,604.7 671.0,601.7 671.2,598.7 671.5,595.7 671.7,592.7 671.9,589.7 672.1,586.7 672.3,583.7 672.6,580.7 672.8,577.7 673.0,574.7 673.3,571.8 673.5,568.8 673.8,565.8 674.0,562.8 674.3,559.8 674.6,556.8 674.8,553.8 675.1,550.8 675.4,547.9 675.7,544.9 675.9,541.9 676.2,538.9 676.4,535.9 676.7,532.9 676.9,529.9 677.1,526.9 677.4,523.9 677.6,520.9 677.8,517.9 678.0,515.0 678.2,512.0 678.5,509.0 678.7,506.0 678.9,503.0 679.1,500.0 679.3,497.0 679.6,494.0 679.8,491.0 680.0,488.0 680.2,485.0 680.4,482.0 680.7,479.1 680.9,476.1 681.1,473.1 681.3,470.1 681.6,467.1 681.8,464.1 682.0,461.1 682.2,458.1 682.5,455.1 682.7,452.1 682.9,449.1 683.1,446.1 683.4,443.2 683.6,440.2 683.8,437.2 684.0,434.2 684.3,431.2 684.5,428.2 684.7,425.2 685.0,422.2 685.2,419.2 685.5,416.2 685.7,413.2 686.0,410.3 686.2,407.3 686.5,404.3 686.8,401.3 687.1,398.3 687.3,395.3 687.6,392.3 687.9,389.3 688.2,386.4 688.5,383.4 688.8,380.4 689.1,377.4 689.4,374.4 689.7,371.4 690.0,368.5 690.4,365.5 690.7,362.5 691.1,359.5 691.4,356.5 691.8,353.6 692.2,350.6 692.5,347.6 692.9,344.6 693.3,341.7 693.7,338.7 694.1,335.7 694.5,332.7 694.9,329.8 695.3,326.8 695.8,323.8 696.2,320.9 696.6,317.9 697.0,314.9 697.4,311.9 697.8,309.0 698.3,306.0 698.7,303.0 699.1,300.1 699.5,297.1 699.9,294.1 700.3,291.1 700.8,288.2 701.2,285.2 701.6,282.2 702.1,279.3 702.5,276.3 703.0,273.3 703.4,270.4 703.9,267.4 704.4,264.5 704.9,261.5 705.4,258.5 706.0,255.6 706.5,252.6 707.1,249.7 707.7,246.8 708.3,243.8 708.9,240.9 709.6,238.0 710.3,235.0 711.0,232.1 711.7,229.2 712.4,226.3 713.1,223.4 713.9,220.5 714.8,217.6 715.8,214.8 717.1,212.1 718.5,209.4 720.2,206.9 722.3,204.9 725.2,204.1 728.0,205.0 730.3,206.9 732.2,209.2 733.9,211.7 735.2,214.4 736.3,217.2 737.1,220.0 737.9,222.9 738.6,225.9 739.2,228.8 739.8,231.7 740.4,234.7 740.9,237.6 741.5,240.6 742.2,243.5 742.8,246.4 743.4,249.4 744.1,252.3 744.7,255.2 745.3,258.2 745.9,261.1 746.5,264.0 747.1,267.0 747.7,269.9 748.3,272.9 748.8,275.8 749.4,278.8 749.9,281.7 750.4,284.7 750.9,287.6 751.4,290.6 751.8,293.6 752.3,296.5 752.6,299.5 753.0,302.5 753.3,305.5 753.6,308.5 753.8,311.5 754.1,314.4 754.4,317.4 754.6,320.4 754.9,323.4 755.3,326.4 755.6,329.4 756.0,332.3 756.5,335.3 757.0,338.3 757.4,341.2 758.0,344.2 758.5,347.1 759.0,350.1 759.5,353.0 760.0,356.0 760.6,359.0 761.1,361.9 761.5,364.9 762.0,367.8 762.4,370.8 762.8,373.8 763.2,376.8 763.6,379.7 763.9,382.7 764.2,385.7 764.5,388.7 764.8,391.7 765.1,394.7 765.3,397.7 765.6,400.6 765.9,403.6 766.1,406.6 766.4,409.6 766.7,412.6 767.0,415.6 767.3,418.6 767.6,421.5 768.0,424.5 768.3,427.5 768.6,430.5 768.9,433.5 769.3,436.4 769.6,439.4 770.0,442.4 770.3,445.4 770.7,448.4 771.0,451.3 771.4,454.3 771.7,457.3 772.1,460.3 772.4,463.3 772.8,466.2 773.1,469.2 773.5,472.2 773.8,475.2 774.2,478.2 774.6,481.1 774.9,484.1 775.3,487.1 775.7,490.1 776.1,493.0 776.5,496.0 776.9,499.0 777.3,502.0 777.7,504.9 778.1,507.9 778.5,510.9 778.9,513.9 779.3,516.8 779.7,519.8 780.2,522.8 780.6,525.7 781.0,528.7 781.5,531.7 781.9,534.6 782.3,537.6 782.8,540.6 783.2,543.5 783.6,546.5 784.1,549.5 784.5,552.4 784.9,555.4 785.3,558.4 785.7,561.4 786.1,564.3 786.5,567.3 786.9,570.3 787.3,573.3 787.6,576.2 788.0,579.2 788.4,582.2 788.7,585.2 789.1,588.2 789.4,591.1 789.8,594.1 790.2,597.1 790.5,600.1 790.9,603.0 791.3,606.0 791.7,609.0 792.2,612.0 792.6,614.9 793.1,617.9 793.5,620.8 794.0,623.8 794.5,626.8 794.9,629.7 795.4,632.7 795.8,635.7 796.3,638.6 796.7,641.6 797.2,644.6 797.6,647.5 798.0,650.5 798.4,653.5 798.7,656.5 799.1,659.4 799.4,662.4 799.8,665.4 800.1,668.4 800.4,671.4 800.8,674.4 801.1,677.3 801.4,680.3 801.7,683.3 802.0,686.3 802.4,689.3 802.7,692.2 803.0,695.2 803.4,698.2 803.7,701.2 804.1,704.2 804.4,707.1 804.8,710.1 805.1,713.1 805.5,716.1 805.9,719.1 806.3,722.0 806.7,725.0 807.1,728.0 807.5,731.0 807.9,733.9 808.3,736.9 808.7,739.9 809.2,742.8 809.6,745.8 810.0,748.8 810.4,751.8 810.8,754.7 811.2,757.7 811.6,760.7 811.9,763.7 812.3,766.6 812.7,769.6 813.0,772.6 813.4,775.6 813.8,778.5 814.1,781.5 814.5,784.5 814.9,787.5 815.2,790.4 815.6,793.4 816.0,796.4 816.3,799.4 816.7,802.4 817.1,805.3 817.5,808.3 817.9,811.3 818.2,814.3 818.6,817.2 819.0,820.2 819.4,823.2 819.7,826.2 820.1,829.1 820.5,832.1 820.8,835.1 821.2,838.1 821.5,841.1 821.9,844.0 822.2,847.0 822.6,850.0 822.9,853.0 823.3,856.0 823.6,858.9 823.9,861.9 824.3,864.9 824.6,867.9 824.9,870.9 825.2,873.8 825.6,876.8 825.9,879.8 826.3,882.8 826.6,885.8 827.0,888.8 827.3,891.7 827.6,894.7 828.0,897.7 828.4,900.7 828.7,903.6 829.1,906.6 829.5,909.6 829.8,912.6 830.2,915.6 830.6,918.5 831.0,921.5 831.3,924.5 831.7,927.5 832.1,930.4 832.6,933.4 833.0,936.4 833.5,939.3 833.9,942.3 834.4,945.3 834.9,948.2 835.4,951.2 836.0,954.1 836.5,957.1 837.0,960.0 837.6,963.0 838.1,965.9 838.6,968.9 839.1,971.8 839.7,974.8 840.2,977.8 840.6,980.7 841.1,983.7 841.6,986.6 842.1,989.6 842.6,992.6 843.1,995.5 843.5,998.5 844.0,1001.4 844.5,1004.4 845.0,1007.4 845.4,1010.3 845.9,1013.3 846.4,1016.3 846.8,1019.2 847.3,1022.2 847.7,1025.1 848.2,1028.1 848.7,1031.1 849.1,1034.0 849.5,1037.0 850.0,1040.0 850.4,1042.9 850.9,1045.9 851.3,1048.9 851.8,1051.8 852.2,1054.8 852.7,1057.8 853.2,1060.7 853.7,1063.7 854.3,1066.6 854.8,1069.6 855.3,1072.5 855.9,1075.5 856.5,1078.4 857.1,1081.4 857.8,1084.3 858.5,1087.2 859.2,1090.1 860.0,1093.0 860.8,1095.9 861.6,1098.8 862.4,1101.7 863.2,1104.6 864.1,1107.4 864.9,1110.3 865.8,1113.2 866.6,1116.1 867.5,1119.0 868.4,1121.8 869.2,1124.7 870.1,1127.6 871.0,1130.4 871.8,1133.3 872.7,1136.2 873.5,1139.1 874.4,1141.9 875.2,1144.8 876.1,1147.7 876.9,1150.6 877.7,1153.5 878.5,1156.4 879.3,1159.2 880.1,1162.1 880.9,1165.0 881.7,1167.9 882.5,1170.8 883.4,1173.7 884.2,1176.6 885.0,1179.5 885.9,1182.3 886.7,1185.2 887.6,1188.1 888.6,1190.9 889.5,1193.8 890.5,1196.6 891.5,1199.4 892.6,1202.2 893.7,1205.0 894.9,1207.7 896.2,1210.5 897.5,1213.2 898.8,1215.9 900.2,1218.5 901.5,1221.2 902.9,1223.9 904.2,1226.6 905.5,1229.3 906.7,1232.0 907.9,1234.8 909.0,1237.6 910.1,1240.4 911.1,1243.2 912.0,1246.1 912.9,1248.9 913.8,1251.8 914.6,1254.7 915.5,1257.5 916.4,1260.4 917.2,1263.3 918.2,1266.1 919.1,1269.0 920.1,1271.8 921.1,1274.6 922.2,1277.5 923.2,1280.3 924.3,1283.1 925.3,1285.9 926.4,1288.7 927.5,1291.5 928.7,1294.2 929.8,1297.0 931.0,1299.8 932.2,1302.5 933.5,1305.2 934.8,1307.9 936.1,1310.6 937.5,1313.3 938.8,1316.0 940.2,1318.6 941.7,1321.3 943.1,1323.9 944.6,1326.5 946.1,1329.1 947.6,1331.7 949.1,1334.3 950.6,1336.9 952.2,1339.4 953.7,1342.0 955.3,1344.6 956.9,1347.1 958.5,1349.7 960.1,1352.2 961.7,1354.7 963.3,1357.2 965.0,1359.7 966.7,1362.2 968.4,1364.7 970.1,1367.1 971.9,1369.5 973.7,1371.9 975.5,1374.3 977.4,1376.7 979.3,1379.0 981.2,1381.3 983.1,1383.6 985.1,1385.9 987.0,1388.2 989.0,1390.4 991.1,1392.6 993.2,1394.7 995.3,1396.9 997.5,1398.9 999.7,1401.0 1001.9,1402.9 1004.3,1404.8 1006.6,1406.7 1009.0,1408.5 1011.5,1410.2 1014.0,1411.9 1016.5,1413.5 1019.1,1415.0 1021.6,1416.6 1024.2,1418.1 1026.9,1419.5 1029.5,1420.9 1032.2,1422.3 1034.9,1423.6 1037.6,1424.9 1040.3,1426.1 1043.1,1427.3 1045.9,1428.5 1048.7,1429.5 1051.5,1430.5 1054.3,1431.5 1057.2,1432.5 1060.0,1433.4 1062.9,1434.3 1065.8,1435.2 1068.6,1436.1 1071.5,1437.0 1074.3,1437.9 1077.2,1438.8 1080.0,1439.7 1082.9,1440.6 1085.8,1441.5 1088.6,1442.4 1091.5,1443.3 1094.4,1444.2 1097.2,1445.0 1100.1,1445.8 1103.0,1446.6 1105.9,1447.4 1108.8,1448.1 1111.8,1448.7 1114.7,1449.3 1117.7,1449.7 1120.7,1449.9 1123.7,1450.0 1126.7,1450.0 1129.7,1450.0 1132.7,1449.8 1135.7,1449.7 1138.7,1449.5 1141.7,1449.3 1144.6,1449.1 1147.6,1448.8 1150.6,1448.6 1153.6,1448.4 1156.6,1448.3 1159.6,1448.1 1162.6,1448.0 1165.6,1447.8 1168.6,1447.7 1171.6,1447.6 1174.6,1447.5 1177.6,1447.4 1180.6,1447.3 1183.6,1447.1 1186.6,1447.0 1189.6,1446.9 1192.6,1446.8 1195.6,1446.7 1198.6,1446.6 1201.6,1446.5 1204.6,1446.4 1207.6,1446.3 1210.6,1446.3 1213.6,1446.2 1216.6,1446.1 1219.6,1446.0 1222.6,1445.9 1225.6,1445.8 1228.6,1445.8 1231.6,1445.7 1234.6,1445.6 1237.6,1445.6 1240.6,1445.5 1243.6,1445.4 1246.6,1445.4 1249.6,1445.3 1252.6,1445.2 1255.6,1445.2 1258.6,1445.1 1261.6,1445.1 1264.6,1445.0 1267.6,1445.0 1270.6,1444.9 1273.6,1444.9 1276.6,1444.8 1279.6,1444.8 1282.6,1444.8 1285.6,1444.7 1288.6,1444.7 1291.6,1444.6 1294.6,1444.6 1297.6,1444.6 1300.6,1444.5 1303.6,1444.5 1306.6,1444.5 1309.6,1444.5 1312.6,1444.4 1315.6,1444.4 1318.6,1444.4 1321.6,1444.4 1324.6,1444.4 1327.6,1444.4 1330.6,1444.4 1333.6,1444.3 1336.6,1444.3 1339.6,1444.3 1342.6,1444.3 1345.6,1444.3 1348.6,1444.3 1351.6,1444.3 1354.6,1444.3 1357.6,1444.3 1360.6,1444.3 1363.6,1444.4 1366.6,1444.4 1369.6,1444.4 1372.6,1444.4 1375.6,1444.4 1378.6,1444.4 1381.6,1444.5 1384.6,1444.5 1387.6,1444.5 1390.6,1444.5 1393.6,1444.6 1396.6,1444.6 1399.6,1444.6 1402.6,1444.7 1405.6,1444.7 1408.6,1444.8 1411.6,1444.8 1414.6,1444.9 1417.6,1444.9 1420.6,1445.0 1423.6,1445.0 1426.6,1445.1 1429.6,1445.2 1432.6,1445.2 1435.6,1445.3 1438.6,1445.3 1441.6,1445.4 1444.6,1445.5 1447.6,1445.5 1450.6,1445.6 1453.6,1445.6 1456.6,1445.7 1459.6,1445.7 1462.6,1445.8 1465.6,1445.8 1468.6,1445.9 1471.6,1445.9 1474.6,1446.0 1477.6,1446.0 1480.6,1446.0 1483.6,1446.1 1486.6,1446.1 1489.6,1446.1 1492.6,1446.2 1495.6,1446.2 1498.6,1446.2 1501.6,1446.3 1504.6,1446.3 1507.6,1446.3 1510.6,1446.3 1513.5,1446.4 1516.5,1446.4 1519.5,1446.4 1522.5,1446.4 1525.5,1446.5 1528.5,1446.5 1531.5,1446.5 1534.5,1446.5 1537.5,1446.6 1540.5,1446.6 1543.5,1446.6 1546.5,1446.6 1549.5,1446.7 1552.5,1446.7 1555.5,1446.7 1558.5,1446.7 1561.5,1446.7 1564.5,1446.8 1567.5,1446.8 1570.5,1446.8 1573.5,1446.8 1576.5,1446.8 1579.5,1446.9 1582.5,1446.9 1585.5,1446.9 1588.5,1446.9 1591.5,1446.9 1594.5,1447.0 1597.5,1447.0 1600.5,1447.0 1603.5,1447.0 1606.5,1447.0 1609.5,1447.1 1612.5,1447.1 1615.5,1447.1 1618.5,1447.1 1621.5,1447.1 1624.5,1447.1 1627.5,1447.1 1630.5,1447.2 1633.5,1447.2 1636.5,1447.2 1639.5,1447.2 1642.5,1447.2 1645.5,1447.2 1648.5,1447.2 1651.5,1447.2 1654.5,1447.2 1657.5,1447.2 1660.5,1447.2 1663.5,1447.2 1666.5,1447.2 1669.5,1447.2 1672.5,1447.2 1675.5,1447.3 1678.5,1447.3 1681.5,1447.3 1684.5,1447.3 1687.5,1447.3 1690.5,1447.3 1693.5,1447.3 1696.5,1447.3 1699.5,1447.3 1702.5,1447.3 1705.5,1447.3 1708.5,1447.3 1711.5,1447.3 1714.5,1447.2 1717.5,1447.2 1720.5,1447.1 1723.5,1447.0 1726.5,1446.9 1729.5,1446.8 1732.5,1446.7 1735.5,1446.6 1738.5,1446.4 1741.5,1446.3 1744.5,1446.1 1747.5,1445.8 1750.5,1445.6 1753.5,1445.3 1756.5,1445.1 1759.5,1444.8 1762.5,1444.5 1765.4,1444.2 1768.4,1443.9 1771.4,1443.6 1774.4,1443.3 1777.4,1443.1 1780.4,1442.8 1783.4,1442.5 1786.3,1442.2 1789.3,1442.0 1792.3,1441.8 1795.3,1441.6 1798.3,1441.4 1801.3,1441.2 1804.3,1441.1 1807.3,1441.0 1810.3,1440.9 1813.3,1440.9 1816.3,1440.9 1819.3,1440.9 1822.3,1441.0 1825.3,1441.1 1828.3,1441.2 1831.3,1441.3 1834.3,1441.5 1837.3,1441.6 1840.3,1441.8 1843.3,1442.0 1846.3,1442.2 1849.3,1442.4 1852.3,1442.5 1855.3,1442.7 1858.2,1442.9 1861.2,1443.0 1864.2,1443.2 1867.2,1443.3 1870.2,1443.4 1873.2,1443.5 1876.2,1443.5 1879.2,1443.5 1882.2,1443.5 1885.2,1443.4 1888.2,1443.3 1891.2,1443.2 1894.2,1443.0 1897.2,1442.8 1900.2,1442.6 1903.2,1442.4 1906.2,1442.1 1909.2,1441.8 1912.2,1441.6 1915.2,1441.2 1918.1,1440.9 1921.1,1440.6 1924.1,1440.3 1927.1,1439.9 1930.1,1439.6 1933.0,1439.2 1936.0,1438.9 1939.0,1438.5 1942.0,1438.2 1945.0,1437.8 1947.9,1437.5 1950.9,1437.1 1953.9,1436.8 1956.9,1436.4 1959.9,1436.1 1962.8,1435.8 1963.1,1435.8"/>
<use href="#cRed" stroke-width="8"/>
<path id="cBlue" stroke="#00f" d="M150.0,1500.1L153.0,1500.1 156.0,1500.1 159.0,1500.0 162.0,1500.0 165.0,1500.0 168.0,1500.0 171.0,1500.0 174.0,1500.0 177.0,1499.9 180.0,1499.9 183.0,1499.9 186.0,1499.9 189.0,1499.8 192.0,1499.8 195.0,1499.7 198.0,1499.6 201.0,1499.6 204.0,1499.5 207.0,1499.4 210.0,1499.3 213.0,1499.2 216.0,1499.1 219.0,1499.1 222.0,1499.0 225.0,1498.9 228.0,1498.9 231.0,1498.8 234.0,1498.8 237.0,1498.7 240.0,1498.7 243.0,1498.7 246.0,1498.7 249.0,1498.7 252.0,1498.6 255.0,1498.6 258.0,1498.6 261.0,1498.6 264.0,1498.6 267.0,1498.5 270.0,1498.5 273.0,1498.4 276.0,1498.3 279.0,1498.1 282.0,1497.9 285.0,1497.7 288.0,1497.6 291.0,1497.6 294.0,1497.6 297.0,1497.8 299.9,1498.1 302.9,1498.5 305.9,1499.1 308.8,1499.7 311.7,1500.4 314.6,1501.1 317.5,1501.9 320.4,1502.8 323.2,1503.7 326.1,1504.7 328.8,1505.9 331.5,1507.2 334.2,1508.5 336.9,1509.8 339.6,1511.1 342.4,1512.3 345.2,1513.4 348.0,1514.4 350.9,1515.3 353.7,1516.2 356.6,1516.9 359.6,1517.5 362.6,1517.8 365.6,1517.8 368.5,1517.4 371.5,1516.7 374.3,1515.7 377.1,1514.6 379.8,1513.3 382.4,1511.9 384.9,1510.1 387.1,1508.1 388.9,1505.7 390.5,1503.2 392.0,1500.6 393.3,1497.9 394.6,1495.2 395.9,1492.5 397.2,1489.8 398.4,1487.0 399.6,1484.3 400.7,1481.5 401.9,1478.7 403.0,1475.9 404.1,1473.2 405.2,1470.4 406.3,1467.6 407.4,1464.8 408.4,1462.0 409.4,1459.1 410.4,1456.3 411.3,1453.4 412.2,1450.6 413.1,1447.7 413.9,1444.8 414.7,1441.9 415.6,1439.1 416.4,1436.2 417.2,1433.3 418.0,1430.4 418.8,1427.5 419.6,1424.6 420.3,1421.7 421.1,1418.8 421.9,1415.9 422.6,1413.0 423.3,1410.1 424.0,1407.2 424.7,1404.2 425.3,1401.3 425.9,1398.4 426.5,1395.4 427.0,1392.5 427.6,1389.5 428.1,1386.6 428.6,1383.6 429.1,1380.6 429.6,1377.7 430.0,1374.7 430.5,1371.8 431.0,1368.8 431.5,1365.8 432.0,1362.9 432.5,1359.9 433.0,1357.0 433.5,1354.0 434.0,1351.1 434.5,1348.1 435.0,1345.1 435.5,1342.2 436.0,1339.2 436.5,1336.3 437.1,1333.3 437.6,1330.4 438.1,1327.4 438.6,1324.4 439.1,1321.5 439.6,1318.5 440.1,1315.6 440.6,1312.6 441.1,1309.6 441.5,1306.7 442.0,1303.7 442.5,1300.8 442.9,1297.8 443.4,1294.8 443.8,1291.9 444.3,1288.9 444.7,1285.9 445.1,1283.0 445.5,1280.0 446.0,1277.0 446.4,1274.0 446.8,1271.1 447.2,1268.1 447.6,1265.1 448.0,1262.2 448.4,1259.2 448.8,1256.2 449.3,1253.2 449.7,1250.3 450.1,1247.3 450.5,1244.3 450.9,1241.4 451.3,1238.4 451.7,1235.4 452.1,1232.4 452.5,1229.5 452.9,1226.5 453.3,1223.5 453.7,1220.5 454.1,1217.6 454.6,1214.6 455.0,1211.6 455.4,1208.7 455.8,1205.7 456.2,1202.7 456.6,1199.7 457.0,1196.8 457.5,1193.8 457.9,1190.8 458.3,1187.9 458.7,1184.9 459.2,1181.9 459.6,1179.0 460.1,1176.0 460.5,1173.0 460.9,1170.1 461.4,1167.1 461.8,1164.1 462.3,1161.2 462.7,1158.2 463.2,1155.2 463.6,1152.3 464.1,1149.3 464.5,1146.3 465.0,1143.4 465.4,1140.4 465.9,1137.4 466.4,1134.5 466.8,1131.5 467.3,1128.5 467.7,1125.6 468.2,1122.6 468.7,1119.6 469.1,1116.7 469.6,1113.7 470.1,1110.8 470.5,1107.8 471.0,1104.8 471.5,1101.9 471.9,1098.9 472.4,1095.9 472.9,1093.0 473.3,1090.0 473.8,1087.0 474.3,1084.1 474.8,1081.1 475.2,1078.2 475.7,1075.2 476.2,1072.2 476.7,1069.3 477.1,1066.3 477.6,1063.4 478.1,1060.4 478.6,1057.4 479.1,1054.5 479.6,1051.5 480.0,1048.6 480.5,1045.6 481.0,1042.6 481.5,1039.7 482.0,1036.7 482.5,1033.8 483.0,1030.8 483.5,1027.8 484.0,1024.9 484.5,1021.9 485.1,1019.0 485.6,1016.0 486.1,1013.1 486.6,1010.1 487.1,1007.2 487.6,1004.2 488.1,1001.2 488.7,998.3 489.2,995.3 489.7,992.4 490.2,989.4 490.7,986.5 491.2,983.5 491.7,980.5 492.2,977.6 492.7,974.6 493.2,971.7 493.7,968.7 494.2,965.8 494.7,962.8 495.2,959.8 495.7,956.9 496.2,953.9 496.7,951.0 497.2,948.0 497.6,945.0 498.1,942.1 498.6,939.1 499.1,936.2 499.6,933.2 500.1,930.2 500.6,927.3 501.1,924.3 501.6,921.4 502.1,918.4 502.6,915.4 503.0,912.5 503.5,909.5 504.0,906.6 504.5,903.6 505.0,900.6 505.5,897.7 505.9,894.7 506.4,891.8 506.9,888.8 507.4,885.8 507.9,882.9 508.4,879.9 508.9,877.0 509.4,874.0 509.9,871.0 510.4,868.1 510.9,865.1 511.4,862.2 512.0,859.2 512.5,856.3 513.0,853.3 513.5,850.4 514.1,847.4 514.6,844.5 515.1,841.5 515.6,838.5 516.2,835.6 516.7,832.6 517.2,829.7 517.8,826.7 518.3,823.8 518.8,820.8 519.3,817.9 519.9,814.9 520.4,812.0 520.9,809.0 521.4,806.1 522.0,803.1 522.5,800.2 523.0,797.2 523.5,794.2 524.1,791.3 524.6,788.3 525.1,785.4 525.6,782.4 526.1,779.5 526.6,776.5 527.1,773.5 527.5,770.6 528.0,767.6 528.5,764.7 528.9,761.7 529.4,758.7 529.9,755.8 530.3,752.8 530.8,749.8 531.3,746.9 531.8,743.9 532.3,741.0 532.8,738.0 533.4,735.1 534.0,732.1 534.7,729.2 535.5,726.3 536.3,723.4 537.1,720.5 538.0,717.7 538.9,714.8 539.7,711.9 540.5,709.0 541.2,706.1 542.0,703.2 542.7,700.3 543.4,697.4 544.1,694.5 544.8,691.6 545.6,688.7 546.4,685.8 547.1,682.9 547.9,680.0 548.7,677.1 549.5,674.2 550.4,671.3 551.3,668.5 552.3,665.6 553.3,662.8 554.4,660.0 555.5,657.2 556.6,654.4 557.8,651.7 559.0,648.9 560.2,646.2 561.5,643.5 562.8,640.8 564.1,638.1 565.5,635.4 566.8,632.7 568.2,630.1 569.7,627.4 571.1,624.8 572.6,622.2 574.0,619.6 575.5,616.9 577.0,614.3 578.6,611.8 580.3,609.3 582.2,607.0 584.3,604.9 586.5,602.8 588.8,600.9 591.1,599.1 593.7,597.4 596.3,596.0 599.1,594.9 602.0,594.4 605.0,594.4 608.0,594.8 610.9,595.7 613.6,596.9 616.3,598.3 618.8,599.8 621.3,601.6 623.6,603.5 625.8,605.5 627.9,607.7 629.8,610.0 631.7,612.3 633.6,614.7 635.4,617.0 637.2,619.5 638.9,621.9 640.7,624.3 642.4,626.8 644.0,629.3 645.6,631.9 647.1,634.5 648.6,637.1 650.1,639.7 651.6,642.3 653.1,644.9 654.6,647.5 656.1,650.0 657.8,652.6 659.4,655.1 661.1,657.5 662.8,660.0 664.5,662.5 666.2,664.9 668.0,667.4 669.7,669.8 671.4,672.3 673.1,674.8 674.8,677.3 676.4,679.8 678.0,682.3 679.7,684.8 681.3,687.4 682.9,689.9 684.5,692.4 686.1,695.0 687.7,697.5 689.3,700.0 691.0,702.5 692.7,705.0 694.4,707.4 696.1,709.9 697.8,712.4 699.5,714.8 701.3,717.3 703.1,719.7 704.9,722.0 706.8,724.3 708.8,726.6 710.9,728.7 713.1,730.8 715.4,732.7 717.8,734.6 720.1,736.4 722.5,738.3 724.7,740.3 726.9,742.3 729.0,744.4 731.1,746.6 733.1,748.9 735.1,751.1 737.0,753.4 739.0,755.6 741.0,757.9 743.1,760.1 745.2,762.2 747.3,764.3 749.5,766.4 751.7,768.4 753.9,770.4 756.1,772.5 758.3,774.5 760.4,776.6 762.5,778.8 764.6,780.9 766.7,783.1 768.7,785.3 770.7,787.5 772.7,789.8 774.7,792.0 776.7,794.3 778.6,796.6 780.5,798.9 782.5,801.2 784.4,803.5 786.3,805.8 788.2,808.1 790.0,810.5 791.7,813.0 793.3,815.5 794.8,818.1 796.2,820.8 797.4,823.5 798.5,826.3 799.4,829.2 800.3,832.0 801.1,834.9 801.9,837.8 802.7,840.7 803.4,843.6 804.1,846.5 804.9,849.4 805.7,852.3 806.6,855.2 807.5,858.1 808.5,860.9 809.5,863.7 810.6,866.5 811.7,869.3 812.8,872.1 813.8,874.9 814.9,877.7 816.0,880.5 817.0,883.3 818.0,886.1 819.0,889.0 820.0,891.8 821.0,894.6 822.0,897.5 823.1,900.3 824.1,903.1 825.2,905.9 826.3,908.7 827.5,911.4 828.7,914.2 829.9,916.9 831.2,919.6 832.5,922.4 833.7,925.1 835.0,927.8 836.3,930.5 837.5,933.2 838.7,936.0 839.8,938.8 840.9,941.6 842.0,944.4 843.1,947.2 844.1,950.0 845.1,952.8 846.2,955.6 847.1,958.5 848.1,961.3 849.1,964.1 850.0,967.0 851.0,969.8 851.9,972.7 852.8,975.5 853.7,978.4 854.6,981.3 855.4,984.1 856.3,987.0 857.1,989.9 857.9,992.8 858.6,995.7 859.4,998.6 860.2,1001.5 861.0,1004.4 861.7,1007.3 862.5,1010.2 863.3,1013.1 864.1,1016.0 864.9,1018.9 865.7,1021.8 866.6,1024.6 867.4,1027.5 868.3,1030.4 869.2,1033.2 870.1,1036.1 871.0,1039.0 871.9,1041.8 872.9,1044.7 873.8,1047.5 874.8,1050.4 875.8,1053.2 876.8,1056.0 877.8,1058.8 878.8,1061.7 879.9,1064.5 880.9,1067.3 882.0,1070.1 883.1,1072.9 884.2,1075.7 885.3,1078.4 886.5,1081.2 887.7,1083.9 889.0,1086.7 890.2,1089.4 891.5,1092.1 892.8,1094.8 894.1,1097.5 895.4,1100.2 896.7,1102.9 898.0,1105.6 899.4,1108.3 900.7,1111.0 902.1,1113.6 903.5,1116.3 904.8,1119.0 906.2,1121.6 907.6,1124.3 909.0,1127.0 910.4,1129.6 911.8,1132.3 913.2,1134.9 914.7,1137.5 916.1,1140.2 917.6,1142.8 919.0,1145.4 920.5,1148.0 921.9,1150.7 923.4,1153.3 924.8,1155.9 926.3,1158.5 927.8,1161.2 929.2,1163.8 930.7,1166.4 932.2,1169.0 933.7,1171.6 935.2,1174.2 936.7,1176.8 938.2,1179.4 939.8,1181.9 941.3,1184.5 942.9,1187.0 944.5,1189.6 946.1,1192.1 947.8,1194.6 949.5,1197.1 951.3,1199.5 953.1,1201.9 955.0,1204.2 957.0,1206.4 959.1,1208.6 961.3,1210.7 963.5,1212.7 965.7,1214.7 967.9,1216.7 970.2,1218.7 972.5,1220.6 974.8,1222.5 977.2,1224.4 979.5,1226.2 981.9,1228.0 984.3,1229.8 986.8,1231.5 989.2,1233.3 991.6,1235.0 994.1,1236.8 996.6,1238.4 999.2,1239.8 1002.0,1241.0 1004.9,1241.7 1007.9,1242.0 1010.9,1242.0 1013.9,1241.6 1016.8,1241.2 1019.8,1240.7 1022.8,1240.2 1025.7,1239.7 1028.7,1239.2 1031.6,1238.6 1034.6,1238.0 1037.5,1237.3 1040.4,1236.5 1043.2,1235.6 1046.1,1234.6 1048.9,1233.6 1051.7,1232.5 1054.4,1231.2 1057.0,1229.8 1059.6,1228.3 1062.1,1226.7 1064.6,1224.9 1067.0,1223.2 1069.4,1221.4 1071.8,1219.5 1074.1,1217.6 1076.4,1215.7 1078.7,1213.7 1080.9,1211.7 1083.1,1209.7 1085.3,1207.7 1087.5,1205.6 1089.7,1203.5 1091.8,1201.4 1093.9,1199.3 1096.0,1197.1 1098.0,1194.9 1100.1,1192.7 1102.2,1190.6 1104.4,1188.5 1106.7,1186.6 1109.1,1184.9 1111.7,1183.4 1114.4,1182.1 1117.2,1180.9 1120.0,1179.8 1122.8,1178.7 1125.5,1177.6 1128.3,1176.6 1131.2,1175.5 1134.0,1174.7 1137.0,1174.0 1139.9,1173.6 1142.9,1173.6 1145.9,1173.8 1148.9,1174.3 1151.8,1175.0 1154.7,1175.9 1157.5,1176.9 1160.3,1178.0 1163.0,1179.3 1165.7,1180.6 1168.3,1182.1 1170.9,1183.7 1173.4,1185.3 1175.8,1187.0 1178.2,1188.8 1180.6,1190.6 1183.0,1192.5 1185.3,1194.4 1187.6,1196.4 1189.8,1198.4 1192.0,1200.4 1194.2,1202.5 1196.3,1204.6 1198.4,1206.7 1200.6,1208.8 1202.7,1211.0 1204.7,1213.1 1206.8,1215.3 1208.9,1217.5 1210.9,1219.7 1212.9,1221.9 1214.9,1224.1 1216.9,1226.4 1218.9,1228.6 1220.9,1230.9 1222.9,1233.1 1224.9,1235.4 1226.9,1237.6 1228.8,1239.9 1230.8,1242.1 1232.8,1244.4 1234.8,1246.6 1236.7,1248.9 1238.7,1251.2 1240.7,1253.4 1242.6,1255.7 1244.6,1258.0 1246.6,1260.2 1248.5,1262.5 1250.5,1264.7 1252.5,1267.0 1254.5,1269.2 1256.5,1271.5 1258.4,1273.8 1260.4,1276.1 1262.3,1278.3 1264.2,1280.7 1266.1,1283.0 1267.9,1285.4 1269.8,1287.7 1271.6,1290.1 1273.4,1292.5 1275.2,1294.9 1277.0,1297.4 1278.8,1299.8 1280.6,1302.1 1282.4,1304.5 1284.2,1306.9 1286.1,1309.2 1288.0,1311.6 1289.9,1313.9 1291.8,1316.2 1293.7,1318.5 1295.6,1320.8 1297.5,1323.1 1299.5,1325.4 1301.5,1327.7 1303.5,1329.9 1305.5,1332.1 1307.5,1334.3 1309.5,1336.5 1311.6,1338.7 1313.7,1340.9 1315.8,1343.1 1317.9,1345.2 1320.0,1347.3 1322.2,1349.3 1324.4,1351.4 1326.7,1353.3 1329.0,1355.2 1331.4,1357.1 1333.8,1358.9 1336.2,1360.6 1338.7,1362.3 1341.1,1364.1 1343.5,1365.9 1345.9,1367.7 1348.2,1369.6 1350.4,1371.6 1352.7,1373.6 1354.8,1375.7 1357.0,1377.8 1359.2,1379.8 1361.4,1381.9 1363.7,1383.8 1366.0,1385.7 1368.4,1387.5 1370.9,1389.2 1373.4,1390.8 1376.0,1392.3 1378.6,1393.8 1381.2,1395.3 1383.8,1396.8 1386.4,1398.3 1388.9,1399.9 1391.4,1401.6 1393.8,1403.4 1396.3,1405.1 1398.7,1406.9 1401.1,1408.6 1403.6,1410.4 1406.1,1412.0 1408.6,1413.6 1411.2,1415.1 1413.8,1416.6 1416.5,1418.0 1419.1,1419.4 1421.8,1420.7 1424.5,1422.0 1427.3,1423.2 1430.1,1424.3 1432.9,1425.3 1435.8,1426.3 1438.6,1427.1 1441.5,1428.0 1444.4,1428.8 1447.3,1429.5 1450.2,1430.2 1453.1,1430.9 1456.1,1431.5 1459.0,1432.0 1462.0,1432.6 1464.9,1433.1 1467.9,1433.7 1470.8,1434.4 1473.7,1435.0 1476.6,1435.7 1479.6,1436.4 1482.5,1437.2 1485.4,1437.9 1488.3,1438.7 1491.2,1439.4 1494.1,1440.3 1496.9,1441.1 1499.8,1442.0 1502.7,1442.9 1505.5,1443.8 1508.4,1444.8 1511.2,1445.8 1514.0,1446.9 1516.8,1447.9 1519.6,1449.0 1522.4,1450.0 1525.2,1451.0 1528.1,1452.1 1530.9,1453.1 1533.7,1454.1 1536.6,1455.0 1539.4,1456.0 1542.2,1457.0 1545.0,1458.0 1547.9,1459.0 1550.7,1460.0 1553.5,1461.0 1556.4,1462.0 1559.2,1463.0 1562.1,1463.9 1564.9,1464.9 1567.8,1465.8 1570.6,1466.7 1573.5,1467.6 1576.3,1468.5 1579.2,1469.3 1582.1,1470.2 1585.0,1471.0 1587.9,1471.7 1590.8,1472.4 1593.7,1473.1 1596.7,1473.7 1599.6,1474.3 1602.5,1475.0 1605.5,1475.6 1608.4,1476.2 1611.4,1476.8 1614.3,1477.4 1617.2,1478.1 1620.1,1478.8 1623.0,1479.5 1625.9,1480.3 1628.8,1481.2 1631.7,1482.1 1634.5,1483.0 1637.3,1484.1 1640.1,1485.2 1642.9,1486.4 1645.6,1487.6 1648.3,1488.9 1651.0,1490.2 1653.7,1491.5 1656.4,1492.8 1659.1,1494.1 1661.8,1495.4 1664.5,1496.7 1667.3,1497.9 1670.0,1499.1 1672.8,1500.3 1675.6,1501.4 1678.4,1502.4 1681.3,1503.3 1684.2,1504.1 1687.1,1504.8 1690.0,1505.5 1692.9,1506.1 1695.9,1506.6 1698.8,1507.1 1701.8,1507.5 1704.8,1507.8 1707.8,1508.0 1710.8,1508.2 1713.8,1508.3 1716.8,1508.2 1719.8,1508.1 1722.8,1507.9 1725.7,1507.5 1728.7,1506.9 1731.6,1506.3 1734.5,1505.5 1737.4,1504.7 1740.3,1503.9 1743.2,1503.0 1746.0,1502.1 1748.9,1501.2 1751.8,1500.4 1754.7,1499.7 1757.6,1499.0 1760.6,1498.4 1763.5,1497.9 1766.5,1497.3 1769.4,1496.8 1772.4,1496.3 1775.3,1495.9 1778.3,1495.4 1781.3,1495.1 1784.3,1494.7 1787.3,1494.5 1790.3,1494.3 1793.3,1494.2 1796.3,1494.1 1799.3,1494.2 1802.2,1494.3 1805.2,1494.5 1808.2,1494.8 1811.2,1495.1 1814.2,1495.5 1817.2,1495.9 1820.1,1496.3 1823.1,1496.7 1826.1,1497.2 1829.0,1497.7 1832.0,1498.2 1834.9,1498.6 1837.9,1499.1 1840.9,1499.5 1843.8,1500.0 1846.8,1500.4 1849.8,1500.8 1852.8,1501.1 1855.8,1501.4 1858.8,1501.6 1861.8,1501.7 1864.8,1501.8 1867.7,1501.9 1870.7,1501.9 1873.7,1501.9 1876.7,1501.8 1879.7,1501.8 1882.7,1501.7 1885.7,1501.5 1888.7,1501.4 1891.7,1501.3 1894.7,1501.1 1897.7,1501.0 1900.7,1500.9 1903.7,1500.7 1906.7,1500.6 1909.7,1500.5 1912.7,1500.5 1915.7,1500.4 1918.7,1500.4 1921.7,1500.3 1924.7,1500.3 1927.7,1500.3 1930.7,1500.2 1933.7,1500.2 1936.7,1500.2 1939.7,1500.1 1942.7,1500.1 1945.7,1500.1 1948.7,1500.0 1951.7,1500.0 1953.0,1500.0"/>
<use href="#cBlue" stroke-width="8"/>
<path id="cMag" stroke="#f0f" d="M150.0,1370.6L153.0,1370.4 156.0,1370.3 159.0,1370.1 162.0,1370.0 165.0,1369.8 168.0,1369.7 171.0,1369.5 174.0,1369.3 177.0,1369.2 180.0,1369.0 183.0,1368.9 186.0,1368.7 188.9,1368.6 191.9,1368.4 194.9,1368.3 197.9,1368.1 200.9,1368.0 203.9,1367.8 206.9,1367.7 209.9,1367.6 212.9,1367.4 215.9,1367.3 218.9,1367.1 221.9,1367.0 224.9,1366.8 227.9,1366.7 230.9,1366.5 233.9,1366.3 236.9,1366.1 239.9,1365.9 242.9,1365.7 245.9,1365.5 248.9,1365.3 251.9,1365.1 254.8,1364.9 257.8,1364.7 260.8,1364.5 263.8,1364.3 266.8,1364.1 269.8,1363.9 272.8,1363.7 275.8,1363.5 278.8,1363.3 281.8,1363.1 284.8,1362.9 287.8,1362.7 290.8,1362.5 293.8,1362.3 296.8,1362.1 299.7,1361.9 302.7,1361.7 305.7,1361.5 308.7,1361.3 311.7,1361.0 314.7,1360.8 317.7,1360.6 320.7,1360.3 323.7,1360.1 326.7,1359.8 329.6,1359.5 332.6,1359.3 335.6,1359.0 338.6,1358.7 341.6,1358.4 344.6,1358.2 347.6,1357.9 350.6,1357.6 353.5,1357.3 356.5,1357.0 359.5,1356.7 362.5,1356.3 365.5,1356.0 368.5,1355.7 371.4,1355.4 374.4,1355.0 377.4,1354.7 380.4,1354.4 383.4,1354.0 386.3,1353.7 389.3,1353.4 392.3,1353.0 395.3,1352.6 398.3,1352.2 401.2,1351.8 404.2,1351.4 407.2,1351.2 410.2,1351.1 413.2,1351.2 416.2,1351.4 419.2,1351.8 422.1,1352.3 425.0,1353.0 427.9,1353.7 430.8,1354.7 433.6,1355.7 436.4,1356.9 439.1,1358.0 441.9,1359.2 444.6,1360.5 447.4,1361.6 450.2,1362.8 452.9,1363.9 455.8,1364.9 458.5,1366.0 461.3,1367.1 464.1,1368.3 466.9,1369.4 469.7,1370.5 472.5,1371.4 475.4,1372.3 478.3,1373.0 481.3,1373.4 484.3,1373.5 487.3,1373.2 490.2,1372.6 493.0,1371.6 495.7,1370.3 498.4,1368.9 500.9,1367.2 503.2,1365.4 505.5,1363.4 507.6,1361.3 509.6,1359.1 511.4,1356.7 513.1,1354.2 514.6,1351.6 516.1,1349.0 517.5,1346.4 518.9,1343.7 520.2,1341.0 521.4,1338.2 522.5,1335.4 523.5,1332.6 524.4,1329.7 525.3,1326.9 526.1,1324.0 526.9,1321.1 527.7,1318.2 528.6,1315.4 529.6,1312.5 530.7,1309.7 531.8,1306.9 532.8,1304.1 533.8,1301.3 534.6,1298.4 535.3,1295.5 536.0,1292.6 536.7,1289.6 537.3,1286.7 537.9,1283.8 538.5,1280.8 539.1,1277.9 539.7,1274.9 540.2,1272.0 540.8,1269.0 541.4,1266.1 541.9,1263.1 542.4,1260.2 543.0,1257.2 543.5,1254.3 544.0,1251.3 544.6,1248.4 545.1,1245.4 545.6,1242.5 546.1,1239.5 546.6,1236.6 547.1,1233.6 547.7,1230.6 548.2,1227.7 548.7,1224.7 549.2,1221.8 549.7,1218.8 550.2,1215.9 550.7,1212.9 551.2,1209.9 551.7,1207.0 552.2,1204.0 552.7,1201.1 553.2,1198.1 553.7,1195.2 554.2,1192.2 554.7,1189.2 555.2,1186.3 555.8,1183.3 556.3,1180.4 556.8,1177.4 557.3,1174.5 557.8,1171.5 558.3,1168.6 558.8,1165.6 559.4,1162.6 559.9,1159.7 560.4,1156.7 560.9,1153.8 561.4,1150.8 561.9,1147.9 562.4,1144.9 562.9,1141.9 563.4,1139.0 563.9,1136.0 564.4,1133.1 564.9,1130.1 565.4,1127.2 565.9,1124.2 566.4,1121.2 566.9,1118.3 567.4,1115.3 567.9,1112.4 568.4,1109.4 568.9,1106.5 569.4,1103.5 569.9,1100.5 570.4,1097.6 570.9,1094.6 571.4,1091.7 571.8,1088.7 572.3,1085.7 572.8,1082.8 573.3,1079.8 573.8,1076.8 574.2,1073.9 574.7,1070.9 575.2,1068.0 575.7,1065.0 576.1,1062.0 576.6,1059.1 577.1,1056.1 577.5,1053.1 578.0,1050.2 578.4,1047.2 578.9,1044.2 579.3,1041.3 579.8,1038.3 580.2,1035.3 580.6,1032.4 581.0,1029.4 581.5,1026.4 581.9,1023.5 582.3,1020.5 582.7,1017.5 583.1,1014.5 583.5,1011.6 583.9,1008.6 584.3,1005.6 584.7,1002.7 585.1,999.7 585.6,996.7 586.0,993.7 586.4,990.8 586.8,987.8 587.2,984.8 587.6,981.9 588.0,978.9 588.5,975.9 588.9,972.9 589.3,970.0 589.7,967.0 590.2,964.0 590.6,961.1 591.0,958.1 591.4,955.1 591.9,952.2 592.3,949.2 592.7,946.2 593.1,943.2 593.5,940.3 593.9,937.3 594.3,934.3 594.8,931.4 595.2,928.4 595.6,925.4 596.0,922.4 596.4,919.5 596.8,916.5 597.2,913.5 597.6,910.5 598.0,907.6 598.4,904.6 598.8,901.6 599.2,898.7 599.6,895.7 599.9,892.7 600.3,889.7 600.7,886.8 601.1,883.8 601.5,880.8 601.8,877.8 602.2,874.8 602.6,871.9 602.9,868.9 603.3,865.9 603.6,862.9 603.9,859.9 604.2,857.0 604.5,854.0 604.7,851.0 605.0,848.0 605.2,845.0 605.4,842.0 605.6,839.0 605.8,836.0 606.0,833.0 606.2,830.0 606.5,827.0 606.7,824.1 607.0,821.1 607.3,818.1 607.6,815.1 607.9,812.1 608.2,809.1 608.5,806.1 608.9,803.2 609.2,800.2 609.5,797.2 609.9,794.2 610.2,791.2 610.6,788.3 610.9,785.3 611.3,782.3 611.6,779.3 612.0,776.3 612.3,773.4 612.6,770.4 613.0,767.4 613.3,764.4 613.7,761.4 614.0,758.5 614.3,755.5 614.6,752.5 615.0,749.5 615.3,746.5 615.6,743.5 616.0,740.6 616.3,737.6 616.6,734.6 617.0,731.6 617.3,728.6 617.6,725.7 617.9,722.7 618.3,719.7 618.6,716.7 618.9,713.7 619.2,710.7 619.5,707.8 619.8,704.8 620.2,701.8 620.5,698.8 620.8,695.8 621.1,692.8 621.4,689.9 621.7,686.9 621.9,683.9 622.2,680.9 622.5,677.9 622.8,674.9 623.1,671.9 623.3,668.9 623.6,666.0 623.9,663.0 624.2,660.0 624.4,657.0 624.7,654.0 625.0,651.0 625.2,648.0 625.5,645.0 625.8,642.1 626.0,639.1 626.3,636.1 626.6,633.1 626.8,630.1 627.1,627.1 627.4,624.1 627.6,621.1 627.9,618.1 628.2,615.2 628.4,612.2 628.7,609.2 628.9,606.2 629.2,603.2 629.4,600.2 629.7,597.2 630.0,594.2 630.2,591.2 630.5,588.3 630.7,585.3 631.0,582.3 631.3,579.3 631.5,576.3 631.8,573.3 632.1,570.3 632.4,567.3 632.6,564.4 632.9,561.4 633.2,558.4 633.5,555.4 633.8,552.4 634.1,549.4 634.4,546.4 634.7,543.5 635.0,540.5 635.3,537.5 635.6,534.5 635.9,531.5 636.1,528.5 636.4,525.5 636.7,522.6 637.0,519.6 637.2,516.6 637.5,513.6 637.8,510.6 638.1,507.6 638.3,504.6 638.6,501.6 638.9,498.7 639.1,495.7 639.4,492.7 639.7,489.7 640.0,486.7 640.2,483.7 640.5,480.7 640.8,477.7 641.1,474.8 641.4,471.8 641.7,468.8 641.9,465.8 642.2,462.8 642.5,459.8 642.8,456.8 643.1,453.9 643.4,450.9 643.7,447.9 644.0,444.9 644.3,441.9 644.6,438.9 644.9,435.9 645.2,433.0 645.5,430.0 645.9,427.0 646.2,424.0 646.5,421.0 646.8,418.0 647.2,415.1 647.5,412.1 647.9,409.1 648.2,406.1 648.6,403.2 649.0,400.2 649.3,397.2 649.7,394.2 650.1,391.2 650.4,388.3 650.8,385.3 651.2,382.3 651.5,379.3 651.9,376.4 652.3,373.4 652.6,370.4 653.0,367.4 653.4,364.5 653.8,361.5 654.3,358.5 654.7,355.5 655.1,352.6 655.6,349.6 656.1,346.7 656.6,343.7 657.2,340.7 657.7,337.8 658.3,334.9 658.9,331.9 659.6,329.0 660.2,326.1 660.9,323.1 661.5,320.2 662.2,317.3 662.9,314.4 663.6,311.4 664.2,308.5 664.9,305.6 665.6,302.7 666.2,299.7 666.8,296.8 667.4,293.9 668.0,290.9 668.6,288.0 669.2,285.0 669.7,282.1 670.3,279.1 670.8,276.2 671.3,273.2 671.9,270.3 672.4,267.3 673.0,264.4 673.5,261.4 674.1,258.5 674.7,255.5 675.3,252.6 676.0,249.7 676.7,246.8 677.4,243.9 678.1,240.9 678.9,238.0 679.6,235.1 680.3,232.2 681.1,229.3 681.9,226.4 682.8,223.6 683.8,220.7 684.8,217.9 686.0,215.2 687.3,212.5 688.8,209.9 690.4,207.3 692.1,204.8 693.9,202.4 695.8,200.1 698.0,198.1 700.5,196.5 703.4,195.9 706.2,196.9 708.5,198.9 710.4,201.2 712.0,203.7 713.5,206.3 715.0,208.9 716.2,211.6 717.4,214.4 718.4,217.3 719.2,220.1 719.9,223.1 720.6,226.0 721.2,228.9 721.7,231.9 722.3,234.8 722.9,237.7 723.5,240.7 724.2,243.6 724.9,246.5 725.6,249.4 726.3,252.4 727.0,255.3 727.7,258.2 728.4,261.1 729.1,264.0 729.8,266.9 730.5,269.9 731.2,272.8 731.9,275.7 732.5,278.6 733.2,281.5 733.9,284.5 734.5,287.4 735.2,290.3 735.8,293.3 736.4,296.2 737.0,299.1 737.7,302.1 738.3,305.0 738.8,308.0 739.4,310.9 740.0,313.8 740.5,316.8 741.1,319.8 741.6,322.7 742.0,325.7 742.5,328.6 742.9,331.6 743.3,334.6 743.7,337.6 744.0,340.5 744.3,343.5 744.7,346.5 745.0,349.5 745.2,352.5 745.5,355.5 745.8,358.4 746.1,361.4 746.4,364.4 746.7,367.4 747.0,370.4 747.3,373.4 747.6,376.4 748.0,379.3 748.3,382.3 748.7,385.3 749.0,388.3 749.4,391.3 749.8,394.2 750.1,397.2 750.5,400.2 750.8,403.2 751.2,406.1 751.6,409.1 751.9,412.1 752.3,415.1 752.7,418.0 753.1,421.0 753.4,424.0 753.8,427.0 754.2,430.0 754.6,432.9 754.9,435.9 755.3,438.9 755.7,441.9 756.1,444.8 756.5,447.8 756.9,450.8 757.3,453.8 757.7,456.7 758.1,459.7 758.5,462.7 758.9,465.6 759.3,468.6 759.8,471.6 760.2,474.6 760.6,477.5 761.1,480.5 761.5,483.5 761.9,486.4 762.4,489.4 762.8,492.4 763.2,495.3 763.7,498.3 764.1,501.3 764.6,504.2 765.0,507.2 765.5,510.2 765.9,513.1 766.4,516.1 766.8,519.1 767.3,522.0 767.7,525.0 768.2,528.0 768.6,530.9 769.1,533.9 769.5,536.9 770.0,539.8 770.4,542.8 770.9,545.8 771.3,548.7 771.8,551.7 772.2,554.7 772.7,557.6 773.1,560.6 773.5,563.6 774.0,566.5 774.4,569.5 774.8,572.5 775.2,575.4 775.6,578.4 776.0,581.4 776.4,584.4 776.8,587.3 777.2,590.3 777.6,593.3 778.0,596.3 778.4,599.2 778.8,602.2 779.3,605.2 779.7,608.1 780.2,611.1 780.7,614.0 781.2,617.0 781.7,620.0 782.3,622.9 782.8,625.9 783.3,628.8 783.9,631.8 784.4,634.7 784.9,637.7 785.5,640.6 786.0,643.6 786.5,646.5 787.0,649.5 787.6,652.4 788.1,655.4 788.6,658.3 789.1,661.3 789.7,664.3 790.2,667.2 790.7,670.2 791.3,673.1 791.8,676.1 792.3,679.0 792.8,682.0 793.3,684.9 793.8,687.9 794.3,690.9 794.7,693.8 795.1,696.8 795.5,699.8 795.9,702.7 796.2,705.7 796.6,708.7 796.9,711.7 797.3,714.7 797.6,717.6 798.0,720.6 798.4,723.6 798.7,726.6 799.1,729.6 799.5,732.5 799.9,735.5 800.3,738.5 800.7,741.5 801.0,744.4 801.4,747.4 801.8,750.4 802.1,753.4 802.4,756.4 802.7,759.3 803.0,762.3 803.3,765.3 803.6,768.3 803.8,771.3 804.1,774.3 804.4,777.3 804.7,780.2 805.0,783.2 805.3,786.2 805.6,789.2 805.9,792.2 806.3,795.2 806.7,798.1 807.1,801.1 807.6,804.1 808.1,807.0 808.5,810.0 809.0,812.9 809.5,815.9 810.1,818.9 810.6,821.8 811.1,824.8 811.6,827.7 812.2,830.7 812.7,833.6 813.2,836.6 813.7,839.5 814.3,842.5 814.8,845.4 815.3,848.4 815.8,851.4 816.3,854.3 816.7,857.3 817.2,860.2 817.8,863.2 818.3,866.1 818.8,869.1 819.3,872.1 819.9,875.0 820.5,877.9 821.1,880.9 821.8,883.8 822.5,886.7 823.2,889.6 824.0,892.5 824.7,895.4 825.5,898.3 826.4,901.2 827.2,904.1 828.1,907.0 829.0,909.8 829.8,912.7 830.8,915.6 831.7,918.4 832.6,921.2 833.6,924.1 834.5,926.9 835.5,929.8 836.4,932.6 837.3,935.5 838.2,938.4 839.1,941.2 840.1,944.1 841.0,946.9 841.9,949.8 842.8,952.6 843.7,955.5 844.6,958.4 845.6,961.2 846.5,964.1 847.4,966.9 848.3,969.8 849.1,972.7 850.0,975.5 850.9,978.4 851.8,981.3 852.6,984.2 853.4,987.0 854.3,989.9 855.1,992.8 855.9,995.7 856.7,998.6 857.5,1001.5 858.3,1004.4 859.1,1007.3 859.9,1010.1 860.8,1013.0 861.6,1015.9 862.5,1018.8 863.4,1021.6 864.3,1024.5 865.2,1027.3 866.2,1030.2 867.2,1033.0 868.2,1035.8 869.3,1038.6 870.3,1041.5 871.4,1044.3 872.5,1047.1 873.5,1049.9 874.6,1052.7 875.7,1055.5 876.7,1058.3 877.8,1061.1 878.8,1063.9 879.8,1066.7 880.7,1069.6 881.7,1072.4 882.7,1075.3 883.7,1078.1 884.8,1080.9 885.9,1083.7 887.1,1086.4 888.3,1089.2 889.5,1091.9 890.8,1094.6 892.2,1097.3 893.5,1100.0 894.9,1102.6 896.2,1105.3 897.6,1108.0 899.0,1110.6 900.4,1113.3 901.8,1115.9 903.2,1118.6 904.6,1121.2 906.1,1123.9 907.5,1126.5 908.9,1129.2 910.3,1131.8 911.7,1134.4 913.1,1137.1 914.5,1139.7 915.9,1142.4 917.3,1145.1 918.7,1147.7 920.1,1150.4 921.4,1153.1 922.7,1155.8 924.0,1158.5 925.2,1161.2 926.5,1164.0 927.7,1166.7 929.0,1169.4 930.3,1172.1 931.6,1174.8 933.0,1177.5 934.5,1180.1 936.0,1182.6 937.6,1185.2 939.3,1187.7 941.1,1190.1 942.8,1192.5 944.7,1194.9 946.5,1197.2 948.4,1199.6 950.3,1201.9 952.3,1204.2 954.2,1206.4 956.2,1208.7 958.2,1211.0 960.2,1213.2 962.1,1215.5 964.1,1217.7 966.1,1220.0 968.1,1222.2 970.1,1224.5 972.0,1226.8 973.9,1229.1 975.9,1231.4 977.8,1233.6 979.8,1235.9 981.9,1238.1 984.0,1240.2 986.2,1242.3 988.4,1244.3 990.6,1246.3 992.9,1248.2 995.2,1250.1 997.5,1252.0 999.9,1253.9 1002.3,1255.7 1004.6,1257.5 1007.1,1259.3 1009.5,1261.1 1012.0,1262.8 1014.5,1264.4 1017.0,1266.1 1019.6,1267.6 1022.1,1269.1 1024.8,1270.6 1027.4,1272.0 1030.1,1273.3 1032.9,1274.5 1035.6,1275.7 1038.4,1276.9 1041.2,1278.0 1044.0,1279.1 1046.8,1280.1 1049.6,1281.2 1052.4,1282.2 1055.2,1283.2 1058.1,1284.1 1060.9,1285.1 1063.8,1286.0 1066.6,1286.9 1069.5,1287.8 1072.4,1288.7 1075.3,1289.5 1078.2,1290.2 1081.1,1291.0 1084.0,1291.6 1086.9,1292.2 1089.9,1292.8 1092.9,1293.2 1095.8,1293.6 1098.8,1294.0 1101.8,1294.2 1104.8,1294.5 1107.8,1294.6 1110.8,1294.7 1113.8,1294.7 1116.8,1294.7 1119.8,1294.6 1122.8,1294.3 1125.8,1294.0 1128.7,1293.5 1131.7,1293.0 1134.6,1292.4 1137.6,1291.9 1140.5,1291.4 1143.5,1290.9 1146.5,1290.5 1149.4,1290.1 1152.4,1289.6 1155.4,1289.2 1158.3,1288.8 1161.3,1288.3 1164.3,1287.9 1167.3,1287.5 1170.2,1287.1 1173.2,1286.7 1176.2,1286.3 1179.1,1285.9 1182.1,1285.5 1185.1,1285.2 1188.1,1284.8 1191.0,1284.4 1194.0,1284.0 1197.0,1283.7 1200.0,1283.3 1203.0,1283.0 1205.9,1282.7 1208.9,1282.3 1211.9,1282.0 1214.9,1281.7 1217.9,1281.5 1220.9,1281.2 1223.9,1281.0 1226.9,1280.8 1229.9,1280.6 1232.8,1280.4 1235.8,1280.3 1238.8,1280.3 1241.8,1280.3 1244.8,1280.5 1247.8,1280.7 1250.8,1281.0 1253.8,1281.3 1256.8,1281.7 1259.7,1282.1 1262.7,1282.5 1265.7,1283.0 1268.6,1283.5 1271.6,1283.9 1274.6,1284.4 1277.5,1284.9 1280.5,1285.4 1283.5,1285.8 1286.4,1286.3 1289.4,1286.8 1292.3,1287.3 1295.3,1287.8 1298.3,1288.2 1301.2,1288.8 1304.2,1289.3 1307.1,1289.8 1310.1,1290.3 1313.0,1290.8 1316.0,1291.4 1318.9,1291.9 1321.9,1292.5 1324.8,1293.0 1327.8,1293.6 1330.7,1294.2 1333.7,1294.8 1336.6,1295.4 1339.5,1296.1 1342.5,1296.7 1345.4,1297.3 1348.3,1298.0 1351.2,1298.6 1354.2,1299.3 1357.1,1299.9 1360.0,1300.5 1363.0,1301.1 1365.9,1301.7 1368.9,1302.3 1371.8,1302.9 1374.8,1303.4 1377.7,1304.0 1380.7,1304.5 1383.6,1305.1 1386.6,1305.6 1389.5,1306.2 1392.5,1306.7 1395.4,1307.2 1398.4,1307.7 1401.3,1308.1 1404.3,1308.6 1407.3,1309.0 1410.3,1309.4 1413.2,1309.8 1416.2,1310.2 1419.2,1310.5 1422.2,1310.9 1425.2,1311.2 1428.1,1311.5 1431.1,1311.8 1434.1,1312.0 1437.1,1312.3 1440.1,1312.5 1443.1,1312.8 1446.1,1313.0 1449.1,1313.3 1452.1,1313.5 1455.0,1313.7 1458.0,1313.8 1461.0,1314.0 1464.0,1314.2 1467.0,1314.3 1470.0,1314.4 1473.0,1314.5 1476.0,1314.7 1479.0,1314.8 1482.0,1314.9 1485.0,1315.0 1488.0,1315.1 1491.0,1315.3 1494.0,1315.4 1497.0,1315.5 1500.0,1315.6 1503.0,1315.8 1506.0,1315.9 1509.0,1316.0 1512.0,1316.0 1515.0,1316.1 1518.0,1316.1 1521.0,1316.2 1524.0,1316.2 1527.0,1316.2 1530.0,1316.1 1533.0,1316.0 1536.0,1315.9 1539.0,1315.8 1542.0,1315.6 1545.0,1315.4 1548.0,1315.2 1551.0,1315.0 1554.0,1314.8 1556.9,1314.5 1559.9,1314.3 1562.9,1314.0 1565.9,1313.7 1568.9,1313.4 1571.9,1313.2 1574.9,1312.9 1577.9,1312.6 1580.8,1312.4 1583.8,1312.1 1586.8,1311.8 1589.8,1311.5 1592.8,1311.3 1595.8,1311.0 1598.8,1310.7 1601.8,1310.4 1604.7,1310.1 1607.7,1309.8 1610.7,1309.5 1613.7,1309.2 1616.7,1308.9 1619.7,1308.6 1622.6,1308.3 1625.6,1307.9 1628.6,1307.6 1631.6,1307.3 1634.6,1306.9 1637.5,1306.6 1640.5,1306.2 1643.5,1305.8 1646.5,1305.5 1649.5,1305.1 1652.4,1304.7 1655.4,1304.3 1658.4,1303.9 1661.4,1303.5 1664.3,1303.1 1667.3,1302.8 1670.3,1302.4 1673.3,1302.0 1676.2,1301.7 1679.2,1301.3 1682.2,1301.0 1685.2,1300.7 1688.2,1300.3 1691.2,1300.0 1694.1,1299.7 1697.1,1299.4 1700.1,1299.1 1703.1,1298.8 1706.1,1298.6 1709.1,1298.3 1712.1,1298.0 1715.0,1297.8 1718.0,1297.5 1721.0,1297.3 1724.0,1297.0 1727.0,1296.8 1730.0,1296.6 1733.0,1296.3 1736.0,1296.1 1739.0,1295.9 1742.0,1295.8 1745.0,1295.6 1748.0,1295.4 1751.0,1295.3 1753.9,1295.1 1756.9,1295.0 1759.9,1294.8 1762.9,1294.7 1765.9,1294.6 1768.9,1294.4 1771.9,1294.3 1774.9,1294.2 1777.9,1294.1 1780.9,1293.9 1783.9,1293.8 1786.9,1293.7 1789.9,1293.6 1792.9,1293.5 1795.9,1293.3 1798.9,1293.2 1801.9,1293.1 1804.9,1293.0 1807.9,1292.9 1810.9,1292.8 1813.9,1292.7 1816.9,1292.6 1819.9,1292.5 1822.9,1292.4 1825.9,1292.3 1828.9,1292.2 1831.9,1292.1 1834.9,1292.0 1837.9,1291.9 1840.9,1291.8 1843.9,1291.6 1846.9,1291.5 1849.9,1291.4 1852.9,1291.3 1855.9,1291.1 1858.9,1291.0 1861.9,1290.9 1864.9,1290.7 1867.9,1290.6 1870.9,1290.5 1873.9,1290.4 1876.9,1290.3 1879.9,1290.2 1882.9,1290.1 1885.8,1290.0 1888.8,1289.9 1891.8,1289.9 1894.8,1289.8 1897.8,1289.8 1900.8,1289.7 1903.8,1289.7 1906.8,1289.7 1909.8,1289.6 1912.8,1289.6 1915.8,1289.6 1918.8,1289.6 1921.8,1289.5 1924.8,1289.5 1926.4,1289.5"/>
<use href="#cMag" stroke-width="8"/>
</g>
<!-- ticks -->
<g fill="#000">
<rect x="290" y="1644" width="6" height="26.5"/><rect x="291" y="1670" width="4" height="2"/>
<rect x="570" y="1644" width="6" height="26.5"/><rect x="571" y="1670" width="4" height="2"/>
<rect x="850" y="1644" width="6" height="26.5"/><rect x="851" y="1670" width="4" height="2"/>
<rect x="1130" y="1644" width="6" height="26.5"/><rect x="1131" y="1670" width="4" height="2"/>
<rect x="1410" y="1644" width="6" height="26.5"/><rect x="1411" y="1670" width="4" height="2"/>
<rect x="1690" y="1644" width="6" height="26.5"/><rect x="1691" y="1670" width="4" height="2"/>
<rect x="1970" y="1644" width="6" height="26.5"/><rect x="1971" y="1670" width="4" height="2"/>
<rect x="150" y="1644" width="6" height="13.5"/><rect x="151" y="1657" width="4" height="2"/>
<rect x="430" y="1644" width="6" height="13.5"/><rect x="431" y="1657" width="4" height="2"/>
<rect x="710" y="1644" width="6" height="13.5"/><rect x="711" y="1657" width="4" height="2"/>
<rect x="990" y="1644" width="6" height="13.5"/><rect x="991" y="1657" width="4" height="2"/>
<rect x="1270" y="1644" width="6" height="13.5"/><rect x="1271" y="1657" width="4" height="2"/>
<rect x="1550" y="1644" width="6" height="13.5"/><rect x="1551" y="1657" width="4" height="2"/>
<rect x="1830" y="1644" width="6" height="13.5"/><rect x="1831" y="1657" width="4" height="2"/>
</g>
<!-- tick labels -->
<g class="tl" text-anchor="middle" style="font-size:104.3px">
<text transform="translate(293,1767) scale(0.973,1)">100</text>
<text transform="translate(573,1767) scale(0.973,1)">200</text>
<text transform="translate(853,1767) scale(0.973,1)">300</text>
<text transform="translate(1133,1767) scale(0.973,1)">400</text>
<text transform="translate(1413,1767) scale(0.973,1)">500</text>
<text transform="translate(1693,1767) scale(0.973,1)">600</text>
<text transform="translate(1973,1767) scale(0.973,1)">700</text>
</g>
<text class="tl" transform="translate(1065,1877) scale(0.962,1)" text-anchor="middle" style="font-size:105.6px">Temperature (°C)</text>
<text class="tl" transform="translate(108,840.5) rotate(-90) scale(0.96,1)" text-anchor="middle" style="font-size:105.8px">Intensity (a.u.)</text>
<!-- legend -->
<g stroke-width="15" stroke-linecap="round">
<line x1="1320" y1="156" x2="1458" y2="156" stroke="#000"/>
<line x1="1320" y1="280" x2="1458" y2="280" stroke="#f00"/>
<line x1="1320" y1="405" x2="1458" y2="405" stroke="#00f"/>
<line x1="1320" y1="530" x2="1458" y2="530" stroke="#f0f"/>
</g>
<g class="lg">
<text x="1484" y="177" fill="#000">MZ-9-0</text>
<text x="1484" y="302" fill="#f00">MZ-9-1.6</text>
<text x="1484" y="427" fill="#00f">MZ-9-3.2</text>
<text x="1484" y="552" fill="#f0f">MZ-9-6.4</text>
</g>
</svg>
</body>
</html>
